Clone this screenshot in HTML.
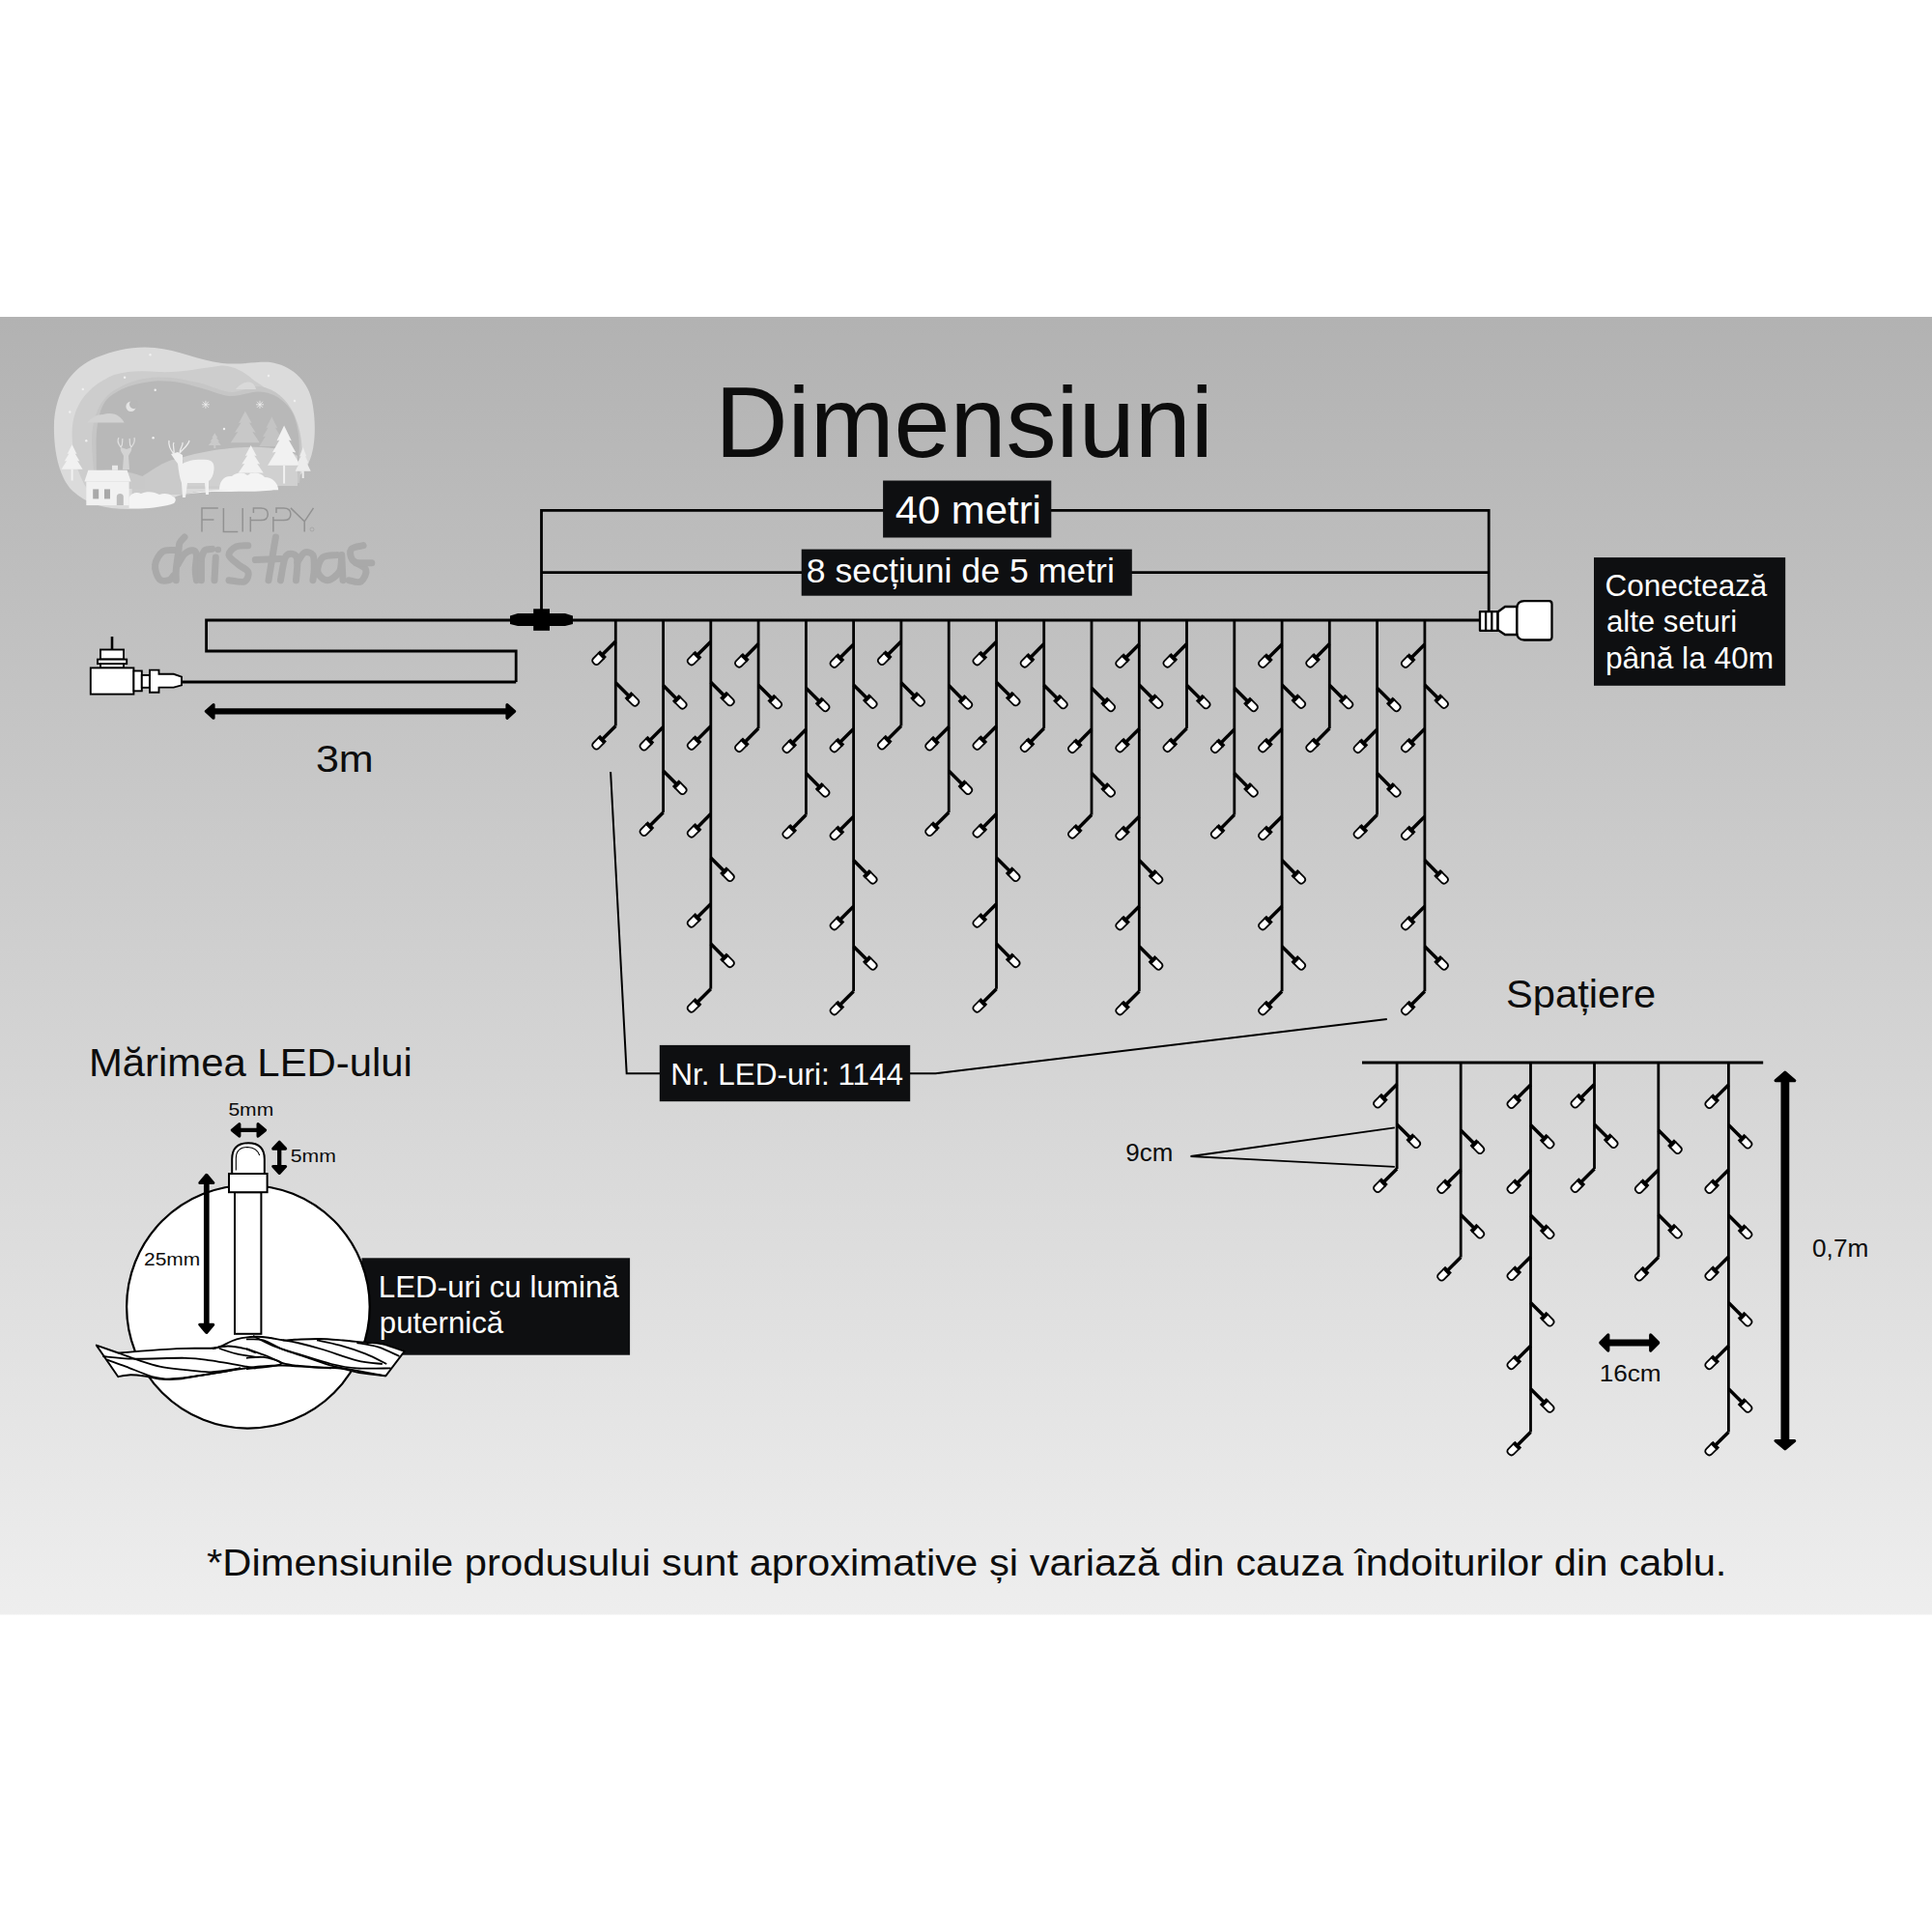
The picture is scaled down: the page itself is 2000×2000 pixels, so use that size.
<!DOCTYPE html>
<html><head><meta charset="utf-8"><title>Dimensiuni</title>
<style>
html,body{margin:0;padding:0;background:#fff;width:2000px;height:2000px;overflow:hidden}
svg{position:absolute;left:0;top:0;display:block}
text{font-family:"Liberation Sans",sans-serif}
</style></head><body>
<svg width="2000" height="2000" viewBox="0 0 2000 2000">
<defs>
<linearGradient id="bg" x1="0" y1="0" x2="0" y2="1">
<stop offset="0" stop-color="#b2b2b2"/>
<stop offset="1" stop-color="#eeeeee"/>
</linearGradient>
</defs>
<rect x="0" y="328" width="2000" height="1343.5" fill="url(#bg)"/>

<g>
<path d="M55.9,443 C56,405 75,380 100,370 C120,362 140,358 160,360 C185,362 205,373 230,376 C250,378 265,374 280,375 C300,378 318,392 323,415 C328,440 326,465 320,478 C314,492 303,500 288,503 C275,507 250,508 219,508 C200,509 190,511 180,515 C170,520 160,526 140,527 C110,528 90,522 75,508 C62,495 56,470 55.9,443 Z" fill="#dbdbdb"/>
<path d="M74.6,448 C75,420 90,400 118,388 C135,383 150,384 165,385 C185,386 210,381 229,378.5 C240,378 252,384 263.6,394.3 C280,405 298,418 306,435 C312,450 312,475 307.8,492.6 C300,502 280,505 250,506 L90,506 C80,490 74.6,470 74.6,448 Z" fill="#cdcdcd"/>
<path d="M95,455 C96,430 104,412 120,403 C135,394 150,391 163,390.5 C180,390 195,394 205,396 C220,400 232,406 240,406 C252,405 262,399 270,400 C285,403 296,412 304,428 C312,445 314,465 312,480 L310,500 L100,505 C97,490 95,470 95,455 Z" fill="#c6c6c6"/>
<path d="M99.5,458 C100,435 104,420 112,412 C122,403 140,396 162.6,394.3 C180,394 192,397 200,399.5 C215,403 228,409 237.6,410 C250,410 260,405 267.7,405.5 C278,406 285,409 290,413 C298,419 303,426 305,432.6 C309,445 310,455 309.7,466 L308,495 L100,495 Z" fill="#b8b8b8"/>
<path d="M90.3,437.5 C95,432 100,429 107,429 C112,427 120,428 123,431 C126,433 128,436 128.7,437.5 Z" fill="#d2d2d2"/>
<path d="M244,403 C248,398 253,395 258,395.5 C262,396 264.5,400 265,403 Z" fill="#d9d9d9"/>
<circle cx="135.6" cy="420.8" r="5.2" fill="#e4e4e4"/><circle cx="138.6" cy="418.6" r="4.6" fill="#b7b7b7"/>
<circle cx="155.5" cy="367.2" r="1.2" fill="#f0f0f0"/>
<circle cx="85.8" cy="402.9" r="1.2" fill="#f0f0f0"/>
<circle cx="72.3" cy="426.5" r="1.2" fill="#f0f0f0"/>
<circle cx="129.1" cy="390.8" r="1.2" fill="#f0f0f0"/>
<circle cx="160.7" cy="403.7" r="1.2" fill="#f0f0f0"/>
<circle cx="158.6" cy="453.2" r="1.2" fill="#f0f0f0"/>
<circle cx="89.3" cy="456.2" r="1.2" fill="#f0f0f0"/>
<circle cx="278" cy="389" r="1.2" fill="#f0f0f0"/>
<circle cx="305" cy="415" r="1.2" fill="#f0f0f0"/>
<circle cx="232" cy="444" r="1.2" fill="#f0f0f0"/>
<g stroke="#f0f0f0" stroke-width="0.8"><line x1="208.9" y1="418.8" x2="216.9" y2="418.8"/><line x1="212.9" y1="414.8" x2="212.9" y2="422.8"/><line x1="209.9" y1="415.8" x2="215.9" y2="421.8"/><line x1="209.9" y1="421.8" x2="215.9" y2="415.8"/></g>
<g stroke="#f0f0f0" stroke-width="0.8"><line x1="265" y1="418.8" x2="273" y2="418.8"/><line x1="269" y1="414.8" x2="269" y2="422.8"/><line x1="266" y1="415.8" x2="272" y2="421.8"/><line x1="266" y1="421.8" x2="272" y2="415.8"/></g>
<path d="M253.8,425.7 L260.6,438.1 L258.0,437.4 L264.6,447.8 L261.3,447.1 L268.8,458.2 L238.8,458.2 L246.3,447.1 L243.0,447.8 L249.6,437.4 L247.1,438.1 Z" fill="#c8c8c8"/>
<path d="M281.3,431.6 L287.2,443.2 L284.9,442.5 L290.7,452.3 L287.8,451.7 L294.3,462.0 L268.3,462.0 L274.8,451.7 L271.9,452.3 L277.7,442.5 L275.4,443.2 Z" fill="#c4c4c4"/>
<path d="M222.3,448.3 L225.2,453.1 L224.1,452.9 L227.0,456.9 L225.6,456.7 L228.8,461.0 L215.8,461.0 L219.1,456.7 L217.6,456.9 L220.5,452.9 L219.4,453.1 Z" fill="#cacaca"/><rect x="221.3" y="461.0" width="2" height="3.0" fill="#cacaca"/>
<path d="M176,478 C195,470 225,464 255,463 C280,462 300,466 308,472 L308,503 L176,503 Z" fill="#d0d0d0"/>
<path d="M136.6,499.5 C150,492 165,480 177.9,475.9 L190,476 L190,512 L136.6,512 Z" fill="#cacaca"/>
<path d="M100,488 C115,484 135,488 150,494 L150,506 L100,506 Z" fill="#c9c9c9"/>
<path d="M294.1,440.5 L301.8,456.2 L298.9,455.4 L306.3,468.6 L302.6,467.8 L311.1,481.8 L277.1,481.8 L285.6,467.8 L281.9,468.6 L289.3,455.4 L286.5,456.2 Z" fill="#f1f1f1"/><rect x="293.1" y="481.8" width="2" height="18.7" fill="#f1f1f1"/>
<path d="M259.7,461.1 L265.6,471.9 L263.3,471.4 L269.1,480.5 L266.2,479.9 L272.7,489.6 L246.7,489.6 L253.2,479.9 L250.3,480.5 L256.1,471.4 L253.8,471.9 Z" fill="#f1f1f1"/><rect x="258.7" y="489.6" width="2" height="7.4" fill="#f1f1f1"/>
<path d="M313.7,463.1 L317.3,472.4 L315.9,472.0 L319.5,479.8 L317.7,479.3 L321.7,487.7 L305.7,487.7 L309.7,479.3 L307.9,479.8 L311.5,472.0 L310.1,472.4 Z" fill="#ececec"/><rect x="312.7" y="487.7" width="2" height="7.3" fill="#ececec"/>
<path d="M74.6,460.2 L79.5,469.9 L77.7,469.4 L82.5,477.5 L80.1,477.0 L85.6,485.7 L63.6,485.7 L69.1,477.0 L66.7,477.5 L71.5,469.4 L69.6,469.9 Z" fill="#f1f1f1"/><rect x="73.6" y="485.7" width="2" height="11.8" fill="#f1f1f1"/>
<path d="M227,507.3 C227,498 232,492 240,493 C244,489 252,488 256,492 C262,488 270,489 274,494 C282,494 288,500 288.2,507.3 Z" fill="#f4f4f4"/>
<path d="M127,486 L128,472 C126,468 124,466 125,463 L131,465 L136,463 C137,466 135,468 133,472 L134,486 Z" fill="#d3d3d3"/>
<path d="M125,463 C122,459 121,456 123,453 M125,463 C128,460 126,456 127,454 M136,463 C139,459 140,456 139,453 M136,463 C133,460 135,456 134,454" stroke="#e0e0e0" stroke-width="1.2" fill="none"/>
<path d="M177,470 L184,468 L189,471 L189,480 C195,476 205,475 215,476 C220,477 222,480 221.5,486 C221,492 219,496 216,498 L216,512 L213,512 L212,500 L194,500 L192,515 L189,515 L188,500 C186,495 185,488 184,480 L181,476 Z" fill="#f1f1f1"/>
<path d="M180,470 C176,465 174,461 175,456 M180,470 C181,465 178,461 180,458 M186,469 C190,464 195,461 196,456 M186,469 C186,464 190,461 189,458" stroke="#ececec" stroke-width="1.3" fill="none"/>
<path d="M91.3,486.7 L131.6,486.7 L135.6,498.5 L87.4,498.5 Z" fill="#f1f1f1"/>
<rect x="116" y="481.8" width="6" height="5" fill="#e8e8e8"/>
<rect x="89.3" y="498.5" width="44.3" height="24.6" fill="#f1f1f1"/>
<rect x="96.2" y="506.4" width="6" height="10" fill="#a9a9a9"/><rect x="108" y="506.4" width="6" height="10" fill="#a9a9a9"/>
<path d="M120.8,523 L120.8,514 C120.8,510 127.8,510 127.8,514 L127.8,523 Z" fill="#bdbdbd"/>
<path d="M133.6,515 C136,510 142,509 146,511 C152,508 160,509 165,512 C170,510 176,511 178.8,514 C182,515 183,518 180,521 C170,525 150,527 140,526 L133.6,526 Z" fill="#f4f4f4"/>
<path d="M190,512 C210,507 240,506 283,507 C275,509 250,509 219,509 C205,510 195,511 190,512 Z" fill="#f4f4f4"/>
</g>
<g fill="none" stroke="#929292" stroke-width="1.5" stroke-linecap="butt">
<path d="M209,550.4 V525.9 H225.8 M209,538 H221.4"/>
<path d="M231.4,525.9 V550.4 H246.3"/>
<path d="M251.2,525.9 V550.4"/>
<path d="M262.4,531 V525.9 H270 Q277.3,525.9 277.3,532.2 Q277.3,538.6 270,538.6 H259.3 M259.3,535 V550.4"/>
<path d="M286,531 V525.9 H293.6 Q300.9,525.9 300.9,532.2 Q300.9,538.6 293.6,538.6 H282.9 M282.9,535 V550.4"/>
<path d="M300.9,525.9 L315.2,539.8 L324.5,525.9 M315.2,539.8 V550.4"/>
</g>
<circle cx="323" cy="548" r="2" fill="none" stroke="#9a9a9a" stroke-width="0.6"/>
<g fill="none" stroke="#a9a9a9" stroke-width="7" stroke-linecap="round" stroke-linejoin="round">
<path d="M182.9,569.7 C180.5,569.9 172.3,568.4 168.6,570.9 C164.9,573.4 161.2,579.8 160.6,584.6 C160.0,589.4 162.5,596.8 164.9,599.5 C167.3,602.2 172.3,601.3 174.8,600.7 C177.3,600.1 179.0,596.5 179.8,595.7 "/>
<path d="M191.0,556.0 C190.2,557.0 187.0,559.5 186.0,562.0 C185.0,564.5 185.4,566.3 184.8,570.9 C184.2,575.5 182.7,584.5 182.3,589.5 C181.9,594.5 182.3,598.8 182.3,600.7 "/>
<path d="M184.0,584.6 C185.2,582.7 188.4,575.9 191.0,573.4 C193.6,570.9 197.6,569.5 199.7,569.7 C201.8,569.9 203.0,571.3 203.4,574.6 C203.8,577.9 202.2,585.1 202.2,589.5 C202.2,593.9 203.2,598.8 203.4,600.7 "/>
<path d="M208.4,575.0 C208.4,579.3 208.4,596.4 208.4,600.7 "/>
<path d="M208.4,578.0 C209.0,576.6 210.1,571.3 212.0,569.7 C213.9,568.1 218.3,568.6 219.6,568.4 "/>
<path d="M223.3,577.1 C223.1,581.0 222.2,596.8 222.0,600.7 "/>
<path d="M256.8,564.7 C254.7,564.9 247.7,564.2 244.4,565.9 C241.1,567.5 236.6,571.5 237.0,574.6 C237.4,577.7 243.6,581.7 246.9,584.6 C250.2,587.5 255.8,589.1 256.8,592.0 C257.8,594.9 256.4,600.5 253.1,602.0 C249.8,603.5 239.7,600.9 237.0,600.7 "/>
<path d="M285.4,556.0 C285.0,558.5 284.1,563.4 282.9,570.9 C281.7,578.4 278.8,595.7 278.0,600.7 "/>
<path d="M264.3,579.6 C268.6,579.4 286.0,578.6 290.4,578.4 "/>
<path d="M290.4,600.7 C291.2,596.8 293.2,581.7 295.3,577.1 C297.4,572.5 300.7,573.0 302.8,573.4 C304.9,573.8 307.2,575.0 307.8,579.6 C308.4,584.2 306.7,597.2 306.5,600.7 "/>
<path d="M307.8,582.1 C309.0,580.4 312.5,573.4 315.2,572.1 C317.9,570.9 322.2,571.7 323.9,574.6 C325.6,577.5 325.2,585.1 325.2,589.5 C325.2,593.9 324.1,598.8 323.9,600.7 "/>
<path d="M348.8,574.6 C346.3,575.0 337.2,574.2 333.9,577.1 C330.6,580.0 328.1,588.1 328.9,592.0 C329.7,595.9 335.1,600.7 338.8,600.7 C342.5,600.7 348.7,595.9 351.2,592.0 C353.7,588.1 353.3,579.6 353.7,577.1 "/>
<path d="M353.7,574.6 C353.9,579.0 354.8,596.4 355.0,600.7 "/>
<path d="M376.1,564.7 C374.0,565.3 365.6,565.9 363.7,568.4 C361.8,570.9 362.4,576.1 364.9,579.6 C367.4,583.1 377.2,585.8 378.6,589.5 C380.1,593.2 376.5,600.1 373.6,602.0 C370.7,603.9 363.3,600.9 361.2,600.7 "/>
<path d="M368.6,582.7 C371.3,582.7 382.1,582.7 384.8,582.7 "/>
</g>
<circle cx="225.8" cy="569" r="3.3" fill="#a9a9a9"/>
<line x1="637.3" y1="642" x2="637.3" y2="751.5" stroke="#000" stroke-width="2.8"/>
<g transform="translate(637.3,664.0) rotate(135)"><line x1="0" y1="0" x2="19.5" y2="0" stroke="#000" stroke-width="3.5"/><rect x="18" y="-4.8" width="3.8" height="9.6" fill="#000"/><path d="M21.2,-3.9 L28.3,-3.9 Q32,-3.9 32,-0.6 L32,0.6 Q32,3.9 28.3,3.9 L21.2,3.9 Z" fill="#fff" stroke="#000" stroke-width="1.8"/></g>
<g transform="translate(637.3,706.7) rotate(45)"><line x1="0" y1="0" x2="19.5" y2="0" stroke="#000" stroke-width="3.5"/><rect x="18" y="-4.8" width="3.8" height="9.6" fill="#000"/><path d="M21.2,-3.9 L28.3,-3.9 Q32,-3.9 32,-0.6 L32,0.6 Q32,3.9 28.3,3.9 L21.2,3.9 Z" fill="#fff" stroke="#000" stroke-width="1.8"/></g>
<g transform="translate(637.3,751.5) rotate(135)"><line x1="0" y1="0" x2="19.5" y2="0" stroke="#000" stroke-width="3.5"/><rect x="18" y="-4.8" width="3.8" height="9.6" fill="#000"/><path d="M21.2,-3.9 L28.3,-3.9 Q32,-3.9 32,-0.6 L32,0.6 Q32,3.9 28.3,3.9 L21.2,3.9 Z" fill="#fff" stroke="#000" stroke-width="1.8"/></g>
<line x1="686.6" y1="642" x2="686.6" y2="841.0" stroke="#000" stroke-width="2.8"/>
<g transform="translate(686.6,709.6) rotate(45)"><line x1="0" y1="0" x2="19.5" y2="0" stroke="#000" stroke-width="3.5"/><rect x="18" y="-4.8" width="3.8" height="9.6" fill="#000"/><path d="M21.2,-3.9 L28.3,-3.9 Q32,-3.9 32,-0.6 L32,0.6 Q32,3.9 28.3,3.9 L21.2,3.9 Z" fill="#fff" stroke="#000" stroke-width="1.8"/></g>
<g transform="translate(686.6,752.5) rotate(135)"><line x1="0" y1="0" x2="19.5" y2="0" stroke="#000" stroke-width="3.5"/><rect x="18" y="-4.8" width="3.8" height="9.6" fill="#000"/><path d="M21.2,-3.9 L28.3,-3.9 Q32,-3.9 32,-0.6 L32,0.6 Q32,3.9 28.3,3.9 L21.2,3.9 Z" fill="#fff" stroke="#000" stroke-width="1.8"/></g>
<g transform="translate(686.6,798.0) rotate(45)"><line x1="0" y1="0" x2="19.5" y2="0" stroke="#000" stroke-width="3.5"/><rect x="18" y="-4.8" width="3.8" height="9.6" fill="#000"/><path d="M21.2,-3.9 L28.3,-3.9 Q32,-3.9 32,-0.6 L32,0.6 Q32,3.9 28.3,3.9 L21.2,3.9 Z" fill="#fff" stroke="#000" stroke-width="1.8"/></g>
<g transform="translate(686.6,841.0) rotate(135)"><line x1="0" y1="0" x2="19.5" y2="0" stroke="#000" stroke-width="3.5"/><rect x="18" y="-4.8" width="3.8" height="9.6" fill="#000"/><path d="M21.2,-3.9 L28.3,-3.9 Q32,-3.9 32,-0.6 L32,0.6 Q32,3.9 28.3,3.9 L21.2,3.9 Z" fill="#fff" stroke="#000" stroke-width="1.8"/></g>
<line x1="735.8" y1="642" x2="735.8" y2="1023.7" stroke="#000" stroke-width="2.8"/>
<g transform="translate(735.8,664.3) rotate(135)"><line x1="0" y1="0" x2="19.5" y2="0" stroke="#000" stroke-width="3.5"/><rect x="18" y="-4.8" width="3.8" height="9.6" fill="#000"/><path d="M21.2,-3.9 L28.3,-3.9 Q32,-3.9 32,-0.6 L32,0.6 Q32,3.9 28.3,3.9 L21.2,3.9 Z" fill="#fff" stroke="#000" stroke-width="1.8"/></g>
<g transform="translate(735.8,706.3) rotate(45)"><line x1="0" y1="0" x2="19.5" y2="0" stroke="#000" stroke-width="3.5"/><rect x="18" y="-4.8" width="3.8" height="9.6" fill="#000"/><path d="M21.2,-3.9 L28.3,-3.9 Q32,-3.9 32,-0.6 L32,0.6 Q32,3.9 28.3,3.9 L21.2,3.9 Z" fill="#fff" stroke="#000" stroke-width="1.8"/></g>
<g transform="translate(735.8,751.8) rotate(135)"><line x1="0" y1="0" x2="19.5" y2="0" stroke="#000" stroke-width="3.5"/><rect x="18" y="-4.8" width="3.8" height="9.6" fill="#000"/><path d="M21.2,-3.9 L28.3,-3.9 Q32,-3.9 32,-0.6 L32,0.6 Q32,3.9 28.3,3.9 L21.2,3.9 Z" fill="#fff" stroke="#000" stroke-width="1.8"/></g>
<g transform="translate(735.8,842.6) rotate(135)"><line x1="0" y1="0" x2="19.5" y2="0" stroke="#000" stroke-width="3.5"/><rect x="18" y="-4.8" width="3.8" height="9.6" fill="#000"/><path d="M21.2,-3.9 L28.3,-3.9 Q32,-3.9 32,-0.6 L32,0.6 Q32,3.9 28.3,3.9 L21.2,3.9 Z" fill="#fff" stroke="#000" stroke-width="1.8"/></g>
<g transform="translate(735.8,888.0) rotate(45)"><line x1="0" y1="0" x2="19.5" y2="0" stroke="#000" stroke-width="3.5"/><rect x="18" y="-4.8" width="3.8" height="9.6" fill="#000"/><path d="M21.2,-3.9 L28.3,-3.9 Q32,-3.9 32,-0.6 L32,0.6 Q32,3.9 28.3,3.9 L21.2,3.9 Z" fill="#fff" stroke="#000" stroke-width="1.8"/></g>
<g transform="translate(735.8,935.7) rotate(135)"><line x1="0" y1="0" x2="19.5" y2="0" stroke="#000" stroke-width="3.5"/><rect x="18" y="-4.8" width="3.8" height="9.6" fill="#000"/><path d="M21.2,-3.9 L28.3,-3.9 Q32,-3.9 32,-0.6 L32,0.6 Q32,3.9 28.3,3.9 L21.2,3.9 Z" fill="#fff" stroke="#000" stroke-width="1.8"/></g>
<g transform="translate(735.8,977.1) rotate(45)"><line x1="0" y1="0" x2="19.5" y2="0" stroke="#000" stroke-width="3.5"/><rect x="18" y="-4.8" width="3.8" height="9.6" fill="#000"/><path d="M21.2,-3.9 L28.3,-3.9 Q32,-3.9 32,-0.6 L32,0.6 Q32,3.9 28.3,3.9 L21.2,3.9 Z" fill="#fff" stroke="#000" stroke-width="1.8"/></g>
<g transform="translate(735.8,1023.7) rotate(135)"><line x1="0" y1="0" x2="19.5" y2="0" stroke="#000" stroke-width="3.5"/><rect x="18" y="-4.8" width="3.8" height="9.6" fill="#000"/><path d="M21.2,-3.9 L28.3,-3.9 Q32,-3.9 32,-0.6 L32,0.6 Q32,3.9 28.3,3.9 L21.2,3.9 Z" fill="#fff" stroke="#000" stroke-width="1.8"/></g>
<line x1="785.1" y1="642" x2="785.1" y2="754.1" stroke="#000" stroke-width="2.8"/>
<g transform="translate(785.1,666.6) rotate(135)"><line x1="0" y1="0" x2="19.5" y2="0" stroke="#000" stroke-width="3.5"/><rect x="18" y="-4.8" width="3.8" height="9.6" fill="#000"/><path d="M21.2,-3.9 L28.3,-3.9 Q32,-3.9 32,-0.6 L32,0.6 Q32,3.9 28.3,3.9 L21.2,3.9 Z" fill="#fff" stroke="#000" stroke-width="1.8"/></g>
<g transform="translate(785.1,709.3) rotate(45)"><line x1="0" y1="0" x2="19.5" y2="0" stroke="#000" stroke-width="3.5"/><rect x="18" y="-4.8" width="3.8" height="9.6" fill="#000"/><path d="M21.2,-3.9 L28.3,-3.9 Q32,-3.9 32,-0.6 L32,0.6 Q32,3.9 28.3,3.9 L21.2,3.9 Z" fill="#fff" stroke="#000" stroke-width="1.8"/></g>
<g transform="translate(785.1,754.1) rotate(135)"><line x1="0" y1="0" x2="19.5" y2="0" stroke="#000" stroke-width="3.5"/><rect x="18" y="-4.8" width="3.8" height="9.6" fill="#000"/><path d="M21.2,-3.9 L28.3,-3.9 Q32,-3.9 32,-0.6 L32,0.6 Q32,3.9 28.3,3.9 L21.2,3.9 Z" fill="#fff" stroke="#000" stroke-width="1.8"/></g>
<line x1="834.4" y1="642" x2="834.4" y2="843.6" stroke="#000" stroke-width="2.8"/>
<g transform="translate(834.4,712.2) rotate(45)"><line x1="0" y1="0" x2="19.5" y2="0" stroke="#000" stroke-width="3.5"/><rect x="18" y="-4.8" width="3.8" height="9.6" fill="#000"/><path d="M21.2,-3.9 L28.3,-3.9 Q32,-3.9 32,-0.6 L32,0.6 Q32,3.9 28.3,3.9 L21.2,3.9 Z" fill="#fff" stroke="#000" stroke-width="1.8"/></g>
<g transform="translate(834.4,755.1) rotate(135)"><line x1="0" y1="0" x2="19.5" y2="0" stroke="#000" stroke-width="3.5"/><rect x="18" y="-4.8" width="3.8" height="9.6" fill="#000"/><path d="M21.2,-3.9 L28.3,-3.9 Q32,-3.9 32,-0.6 L32,0.6 Q32,3.9 28.3,3.9 L21.2,3.9 Z" fill="#fff" stroke="#000" stroke-width="1.8"/></g>
<g transform="translate(834.4,800.6) rotate(45)"><line x1="0" y1="0" x2="19.5" y2="0" stroke="#000" stroke-width="3.5"/><rect x="18" y="-4.8" width="3.8" height="9.6" fill="#000"/><path d="M21.2,-3.9 L28.3,-3.9 Q32,-3.9 32,-0.6 L32,0.6 Q32,3.9 28.3,3.9 L21.2,3.9 Z" fill="#fff" stroke="#000" stroke-width="1.8"/></g>
<g transform="translate(834.4,843.6) rotate(135)"><line x1="0" y1="0" x2="19.5" y2="0" stroke="#000" stroke-width="3.5"/><rect x="18" y="-4.8" width="3.8" height="9.6" fill="#000"/><path d="M21.2,-3.9 L28.3,-3.9 Q32,-3.9 32,-0.6 L32,0.6 Q32,3.9 28.3,3.9 L21.2,3.9 Z" fill="#fff" stroke="#000" stroke-width="1.8"/></g>
<line x1="883.6" y1="642" x2="883.6" y2="1026.3" stroke="#000" stroke-width="2.8"/>
<g transform="translate(883.6,666.9) rotate(135)"><line x1="0" y1="0" x2="19.5" y2="0" stroke="#000" stroke-width="3.5"/><rect x="18" y="-4.8" width="3.8" height="9.6" fill="#000"/><path d="M21.2,-3.9 L28.3,-3.9 Q32,-3.9 32,-0.6 L32,0.6 Q32,3.9 28.3,3.9 L21.2,3.9 Z" fill="#fff" stroke="#000" stroke-width="1.8"/></g>
<g transform="translate(883.6,708.9) rotate(45)"><line x1="0" y1="0" x2="19.5" y2="0" stroke="#000" stroke-width="3.5"/><rect x="18" y="-4.8" width="3.8" height="9.6" fill="#000"/><path d="M21.2,-3.9 L28.3,-3.9 Q32,-3.9 32,-0.6 L32,0.6 Q32,3.9 28.3,3.9 L21.2,3.9 Z" fill="#fff" stroke="#000" stroke-width="1.8"/></g>
<g transform="translate(883.6,754.4) rotate(135)"><line x1="0" y1="0" x2="19.5" y2="0" stroke="#000" stroke-width="3.5"/><rect x="18" y="-4.8" width="3.8" height="9.6" fill="#000"/><path d="M21.2,-3.9 L28.3,-3.9 Q32,-3.9 32,-0.6 L32,0.6 Q32,3.9 28.3,3.9 L21.2,3.9 Z" fill="#fff" stroke="#000" stroke-width="1.8"/></g>
<g transform="translate(883.6,845.2) rotate(135)"><line x1="0" y1="0" x2="19.5" y2="0" stroke="#000" stroke-width="3.5"/><rect x="18" y="-4.8" width="3.8" height="9.6" fill="#000"/><path d="M21.2,-3.9 L28.3,-3.9 Q32,-3.9 32,-0.6 L32,0.6 Q32,3.9 28.3,3.9 L21.2,3.9 Z" fill="#fff" stroke="#000" stroke-width="1.8"/></g>
<g transform="translate(883.6,890.6) rotate(45)"><line x1="0" y1="0" x2="19.5" y2="0" stroke="#000" stroke-width="3.5"/><rect x="18" y="-4.8" width="3.8" height="9.6" fill="#000"/><path d="M21.2,-3.9 L28.3,-3.9 Q32,-3.9 32,-0.6 L32,0.6 Q32,3.9 28.3,3.9 L21.2,3.9 Z" fill="#fff" stroke="#000" stroke-width="1.8"/></g>
<g transform="translate(883.6,938.3) rotate(135)"><line x1="0" y1="0" x2="19.5" y2="0" stroke="#000" stroke-width="3.5"/><rect x="18" y="-4.8" width="3.8" height="9.6" fill="#000"/><path d="M21.2,-3.9 L28.3,-3.9 Q32,-3.9 32,-0.6 L32,0.6 Q32,3.9 28.3,3.9 L21.2,3.9 Z" fill="#fff" stroke="#000" stroke-width="1.8"/></g>
<g transform="translate(883.6,979.7) rotate(45)"><line x1="0" y1="0" x2="19.5" y2="0" stroke="#000" stroke-width="3.5"/><rect x="18" y="-4.8" width="3.8" height="9.6" fill="#000"/><path d="M21.2,-3.9 L28.3,-3.9 Q32,-3.9 32,-0.6 L32,0.6 Q32,3.9 28.3,3.9 L21.2,3.9 Z" fill="#fff" stroke="#000" stroke-width="1.8"/></g>
<g transform="translate(883.6,1026.3) rotate(135)"><line x1="0" y1="0" x2="19.5" y2="0" stroke="#000" stroke-width="3.5"/><rect x="18" y="-4.8" width="3.8" height="9.6" fill="#000"/><path d="M21.2,-3.9 L28.3,-3.9 Q32,-3.9 32,-0.6 L32,0.6 Q32,3.9 28.3,3.9 L21.2,3.9 Z" fill="#fff" stroke="#000" stroke-width="1.8"/></g>
<line x1="932.9" y1="642" x2="932.9" y2="751.5" stroke="#000" stroke-width="2.8"/>
<g transform="translate(932.9,664.0) rotate(135)"><line x1="0" y1="0" x2="19.5" y2="0" stroke="#000" stroke-width="3.5"/><rect x="18" y="-4.8" width="3.8" height="9.6" fill="#000"/><path d="M21.2,-3.9 L28.3,-3.9 Q32,-3.9 32,-0.6 L32,0.6 Q32,3.9 28.3,3.9 L21.2,3.9 Z" fill="#fff" stroke="#000" stroke-width="1.8"/></g>
<g transform="translate(932.9,706.7) rotate(45)"><line x1="0" y1="0" x2="19.5" y2="0" stroke="#000" stroke-width="3.5"/><rect x="18" y="-4.8" width="3.8" height="9.6" fill="#000"/><path d="M21.2,-3.9 L28.3,-3.9 Q32,-3.9 32,-0.6 L32,0.6 Q32,3.9 28.3,3.9 L21.2,3.9 Z" fill="#fff" stroke="#000" stroke-width="1.8"/></g>
<g transform="translate(932.9,751.5) rotate(135)"><line x1="0" y1="0" x2="19.5" y2="0" stroke="#000" stroke-width="3.5"/><rect x="18" y="-4.8" width="3.8" height="9.6" fill="#000"/><path d="M21.2,-3.9 L28.3,-3.9 Q32,-3.9 32,-0.6 L32,0.6 Q32,3.9 28.3,3.9 L21.2,3.9 Z" fill="#fff" stroke="#000" stroke-width="1.8"/></g>
<line x1="982.2" y1="642" x2="982.2" y2="841.0" stroke="#000" stroke-width="2.8"/>
<g transform="translate(982.2,709.6) rotate(45)"><line x1="0" y1="0" x2="19.5" y2="0" stroke="#000" stroke-width="3.5"/><rect x="18" y="-4.8" width="3.8" height="9.6" fill="#000"/><path d="M21.2,-3.9 L28.3,-3.9 Q32,-3.9 32,-0.6 L32,0.6 Q32,3.9 28.3,3.9 L21.2,3.9 Z" fill="#fff" stroke="#000" stroke-width="1.8"/></g>
<g transform="translate(982.2,752.5) rotate(135)"><line x1="0" y1="0" x2="19.5" y2="0" stroke="#000" stroke-width="3.5"/><rect x="18" y="-4.8" width="3.8" height="9.6" fill="#000"/><path d="M21.2,-3.9 L28.3,-3.9 Q32,-3.9 32,-0.6 L32,0.6 Q32,3.9 28.3,3.9 L21.2,3.9 Z" fill="#fff" stroke="#000" stroke-width="1.8"/></g>
<g transform="translate(982.2,798.0) rotate(45)"><line x1="0" y1="0" x2="19.5" y2="0" stroke="#000" stroke-width="3.5"/><rect x="18" y="-4.8" width="3.8" height="9.6" fill="#000"/><path d="M21.2,-3.9 L28.3,-3.9 Q32,-3.9 32,-0.6 L32,0.6 Q32,3.9 28.3,3.9 L21.2,3.9 Z" fill="#fff" stroke="#000" stroke-width="1.8"/></g>
<g transform="translate(982.2,841.0) rotate(135)"><line x1="0" y1="0" x2="19.5" y2="0" stroke="#000" stroke-width="3.5"/><rect x="18" y="-4.8" width="3.8" height="9.6" fill="#000"/><path d="M21.2,-3.9 L28.3,-3.9 Q32,-3.9 32,-0.6 L32,0.6 Q32,3.9 28.3,3.9 L21.2,3.9 Z" fill="#fff" stroke="#000" stroke-width="1.8"/></g>
<line x1="1031.5" y1="642" x2="1031.5" y2="1023.7" stroke="#000" stroke-width="2.8"/>
<g transform="translate(1031.5,664.3) rotate(135)"><line x1="0" y1="0" x2="19.5" y2="0" stroke="#000" stroke-width="3.5"/><rect x="18" y="-4.8" width="3.8" height="9.6" fill="#000"/><path d="M21.2,-3.9 L28.3,-3.9 Q32,-3.9 32,-0.6 L32,0.6 Q32,3.9 28.3,3.9 L21.2,3.9 Z" fill="#fff" stroke="#000" stroke-width="1.8"/></g>
<g transform="translate(1031.5,706.3) rotate(45)"><line x1="0" y1="0" x2="19.5" y2="0" stroke="#000" stroke-width="3.5"/><rect x="18" y="-4.8" width="3.8" height="9.6" fill="#000"/><path d="M21.2,-3.9 L28.3,-3.9 Q32,-3.9 32,-0.6 L32,0.6 Q32,3.9 28.3,3.9 L21.2,3.9 Z" fill="#fff" stroke="#000" stroke-width="1.8"/></g>
<g transform="translate(1031.5,751.8) rotate(135)"><line x1="0" y1="0" x2="19.5" y2="0" stroke="#000" stroke-width="3.5"/><rect x="18" y="-4.8" width="3.8" height="9.6" fill="#000"/><path d="M21.2,-3.9 L28.3,-3.9 Q32,-3.9 32,-0.6 L32,0.6 Q32,3.9 28.3,3.9 L21.2,3.9 Z" fill="#fff" stroke="#000" stroke-width="1.8"/></g>
<g transform="translate(1031.5,842.6) rotate(135)"><line x1="0" y1="0" x2="19.5" y2="0" stroke="#000" stroke-width="3.5"/><rect x="18" y="-4.8" width="3.8" height="9.6" fill="#000"/><path d="M21.2,-3.9 L28.3,-3.9 Q32,-3.9 32,-0.6 L32,0.6 Q32,3.9 28.3,3.9 L21.2,3.9 Z" fill="#fff" stroke="#000" stroke-width="1.8"/></g>
<g transform="translate(1031.5,888.0) rotate(45)"><line x1="0" y1="0" x2="19.5" y2="0" stroke="#000" stroke-width="3.5"/><rect x="18" y="-4.8" width="3.8" height="9.6" fill="#000"/><path d="M21.2,-3.9 L28.3,-3.9 Q32,-3.9 32,-0.6 L32,0.6 Q32,3.9 28.3,3.9 L21.2,3.9 Z" fill="#fff" stroke="#000" stroke-width="1.8"/></g>
<g transform="translate(1031.5,935.7) rotate(135)"><line x1="0" y1="0" x2="19.5" y2="0" stroke="#000" stroke-width="3.5"/><rect x="18" y="-4.8" width="3.8" height="9.6" fill="#000"/><path d="M21.2,-3.9 L28.3,-3.9 Q32,-3.9 32,-0.6 L32,0.6 Q32,3.9 28.3,3.9 L21.2,3.9 Z" fill="#fff" stroke="#000" stroke-width="1.8"/></g>
<g transform="translate(1031.5,977.1) rotate(45)"><line x1="0" y1="0" x2="19.5" y2="0" stroke="#000" stroke-width="3.5"/><rect x="18" y="-4.8" width="3.8" height="9.6" fill="#000"/><path d="M21.2,-3.9 L28.3,-3.9 Q32,-3.9 32,-0.6 L32,0.6 Q32,3.9 28.3,3.9 L21.2,3.9 Z" fill="#fff" stroke="#000" stroke-width="1.8"/></g>
<g transform="translate(1031.5,1023.7) rotate(135)"><line x1="0" y1="0" x2="19.5" y2="0" stroke="#000" stroke-width="3.5"/><rect x="18" y="-4.8" width="3.8" height="9.6" fill="#000"/><path d="M21.2,-3.9 L28.3,-3.9 Q32,-3.9 32,-0.6 L32,0.6 Q32,3.9 28.3,3.9 L21.2,3.9 Z" fill="#fff" stroke="#000" stroke-width="1.8"/></g>
<line x1="1080.7" y1="642" x2="1080.7" y2="754.1" stroke="#000" stroke-width="2.8"/>
<g transform="translate(1080.7,666.6) rotate(135)"><line x1="0" y1="0" x2="19.5" y2="0" stroke="#000" stroke-width="3.5"/><rect x="18" y="-4.8" width="3.8" height="9.6" fill="#000"/><path d="M21.2,-3.9 L28.3,-3.9 Q32,-3.9 32,-0.6 L32,0.6 Q32,3.9 28.3,3.9 L21.2,3.9 Z" fill="#fff" stroke="#000" stroke-width="1.8"/></g>
<g transform="translate(1080.7,709.3) rotate(45)"><line x1="0" y1="0" x2="19.5" y2="0" stroke="#000" stroke-width="3.5"/><rect x="18" y="-4.8" width="3.8" height="9.6" fill="#000"/><path d="M21.2,-3.9 L28.3,-3.9 Q32,-3.9 32,-0.6 L32,0.6 Q32,3.9 28.3,3.9 L21.2,3.9 Z" fill="#fff" stroke="#000" stroke-width="1.8"/></g>
<g transform="translate(1080.7,754.1) rotate(135)"><line x1="0" y1="0" x2="19.5" y2="0" stroke="#000" stroke-width="3.5"/><rect x="18" y="-4.8" width="3.8" height="9.6" fill="#000"/><path d="M21.2,-3.9 L28.3,-3.9 Q32,-3.9 32,-0.6 L32,0.6 Q32,3.9 28.3,3.9 L21.2,3.9 Z" fill="#fff" stroke="#000" stroke-width="1.8"/></g>
<line x1="1130.0" y1="642" x2="1130.0" y2="843.6" stroke="#000" stroke-width="2.8"/>
<g transform="translate(1130.0,712.2) rotate(45)"><line x1="0" y1="0" x2="19.5" y2="0" stroke="#000" stroke-width="3.5"/><rect x="18" y="-4.8" width="3.8" height="9.6" fill="#000"/><path d="M21.2,-3.9 L28.3,-3.9 Q32,-3.9 32,-0.6 L32,0.6 Q32,3.9 28.3,3.9 L21.2,3.9 Z" fill="#fff" stroke="#000" stroke-width="1.8"/></g>
<g transform="translate(1130.0,755.1) rotate(135)"><line x1="0" y1="0" x2="19.5" y2="0" stroke="#000" stroke-width="3.5"/><rect x="18" y="-4.8" width="3.8" height="9.6" fill="#000"/><path d="M21.2,-3.9 L28.3,-3.9 Q32,-3.9 32,-0.6 L32,0.6 Q32,3.9 28.3,3.9 L21.2,3.9 Z" fill="#fff" stroke="#000" stroke-width="1.8"/></g>
<g transform="translate(1130.0,800.6) rotate(45)"><line x1="0" y1="0" x2="19.5" y2="0" stroke="#000" stroke-width="3.5"/><rect x="18" y="-4.8" width="3.8" height="9.6" fill="#000"/><path d="M21.2,-3.9 L28.3,-3.9 Q32,-3.9 32,-0.6 L32,0.6 Q32,3.9 28.3,3.9 L21.2,3.9 Z" fill="#fff" stroke="#000" stroke-width="1.8"/></g>
<g transform="translate(1130.0,843.6) rotate(135)"><line x1="0" y1="0" x2="19.5" y2="0" stroke="#000" stroke-width="3.5"/><rect x="18" y="-4.8" width="3.8" height="9.6" fill="#000"/><path d="M21.2,-3.9 L28.3,-3.9 Q32,-3.9 32,-0.6 L32,0.6 Q32,3.9 28.3,3.9 L21.2,3.9 Z" fill="#fff" stroke="#000" stroke-width="1.8"/></g>
<line x1="1179.3" y1="642" x2="1179.3" y2="1026.3" stroke="#000" stroke-width="2.8"/>
<g transform="translate(1179.3,666.9) rotate(135)"><line x1="0" y1="0" x2="19.5" y2="0" stroke="#000" stroke-width="3.5"/><rect x="18" y="-4.8" width="3.8" height="9.6" fill="#000"/><path d="M21.2,-3.9 L28.3,-3.9 Q32,-3.9 32,-0.6 L32,0.6 Q32,3.9 28.3,3.9 L21.2,3.9 Z" fill="#fff" stroke="#000" stroke-width="1.8"/></g>
<g transform="translate(1179.3,708.9) rotate(45)"><line x1="0" y1="0" x2="19.5" y2="0" stroke="#000" stroke-width="3.5"/><rect x="18" y="-4.8" width="3.8" height="9.6" fill="#000"/><path d="M21.2,-3.9 L28.3,-3.9 Q32,-3.9 32,-0.6 L32,0.6 Q32,3.9 28.3,3.9 L21.2,3.9 Z" fill="#fff" stroke="#000" stroke-width="1.8"/></g>
<g transform="translate(1179.3,754.4) rotate(135)"><line x1="0" y1="0" x2="19.5" y2="0" stroke="#000" stroke-width="3.5"/><rect x="18" y="-4.8" width="3.8" height="9.6" fill="#000"/><path d="M21.2,-3.9 L28.3,-3.9 Q32,-3.9 32,-0.6 L32,0.6 Q32,3.9 28.3,3.9 L21.2,3.9 Z" fill="#fff" stroke="#000" stroke-width="1.8"/></g>
<g transform="translate(1179.3,845.2) rotate(135)"><line x1="0" y1="0" x2="19.5" y2="0" stroke="#000" stroke-width="3.5"/><rect x="18" y="-4.8" width="3.8" height="9.6" fill="#000"/><path d="M21.2,-3.9 L28.3,-3.9 Q32,-3.9 32,-0.6 L32,0.6 Q32,3.9 28.3,3.9 L21.2,3.9 Z" fill="#fff" stroke="#000" stroke-width="1.8"/></g>
<g transform="translate(1179.3,890.6) rotate(45)"><line x1="0" y1="0" x2="19.5" y2="0" stroke="#000" stroke-width="3.5"/><rect x="18" y="-4.8" width="3.8" height="9.6" fill="#000"/><path d="M21.2,-3.9 L28.3,-3.9 Q32,-3.9 32,-0.6 L32,0.6 Q32,3.9 28.3,3.9 L21.2,3.9 Z" fill="#fff" stroke="#000" stroke-width="1.8"/></g>
<g transform="translate(1179.3,938.3) rotate(135)"><line x1="0" y1="0" x2="19.5" y2="0" stroke="#000" stroke-width="3.5"/><rect x="18" y="-4.8" width="3.8" height="9.6" fill="#000"/><path d="M21.2,-3.9 L28.3,-3.9 Q32,-3.9 32,-0.6 L32,0.6 Q32,3.9 28.3,3.9 L21.2,3.9 Z" fill="#fff" stroke="#000" stroke-width="1.8"/></g>
<g transform="translate(1179.3,979.7) rotate(45)"><line x1="0" y1="0" x2="19.5" y2="0" stroke="#000" stroke-width="3.5"/><rect x="18" y="-4.8" width="3.8" height="9.6" fill="#000"/><path d="M21.2,-3.9 L28.3,-3.9 Q32,-3.9 32,-0.6 L32,0.6 Q32,3.9 28.3,3.9 L21.2,3.9 Z" fill="#fff" stroke="#000" stroke-width="1.8"/></g>
<g transform="translate(1179.3,1026.3) rotate(135)"><line x1="0" y1="0" x2="19.5" y2="0" stroke="#000" stroke-width="3.5"/><rect x="18" y="-4.8" width="3.8" height="9.6" fill="#000"/><path d="M21.2,-3.9 L28.3,-3.9 Q32,-3.9 32,-0.6 L32,0.6 Q32,3.9 28.3,3.9 L21.2,3.9 Z" fill="#fff" stroke="#000" stroke-width="1.8"/></g>
<line x1="1228.5" y1="642" x2="1228.5" y2="754.1" stroke="#000" stroke-width="2.8"/>
<g transform="translate(1228.5,666.6) rotate(135)"><line x1="0" y1="0" x2="19.5" y2="0" stroke="#000" stroke-width="3.5"/><rect x="18" y="-4.8" width="3.8" height="9.6" fill="#000"/><path d="M21.2,-3.9 L28.3,-3.9 Q32,-3.9 32,-0.6 L32,0.6 Q32,3.9 28.3,3.9 L21.2,3.9 Z" fill="#fff" stroke="#000" stroke-width="1.8"/></g>
<g transform="translate(1228.5,709.3) rotate(45)"><line x1="0" y1="0" x2="19.5" y2="0" stroke="#000" stroke-width="3.5"/><rect x="18" y="-4.8" width="3.8" height="9.6" fill="#000"/><path d="M21.2,-3.9 L28.3,-3.9 Q32,-3.9 32,-0.6 L32,0.6 Q32,3.9 28.3,3.9 L21.2,3.9 Z" fill="#fff" stroke="#000" stroke-width="1.8"/></g>
<g transform="translate(1228.5,754.1) rotate(135)"><line x1="0" y1="0" x2="19.5" y2="0" stroke="#000" stroke-width="3.5"/><rect x="18" y="-4.8" width="3.8" height="9.6" fill="#000"/><path d="M21.2,-3.9 L28.3,-3.9 Q32,-3.9 32,-0.6 L32,0.6 Q32,3.9 28.3,3.9 L21.2,3.9 Z" fill="#fff" stroke="#000" stroke-width="1.8"/></g>
<line x1="1277.8" y1="642" x2="1277.8" y2="843.6" stroke="#000" stroke-width="2.8"/>
<g transform="translate(1277.8,712.2) rotate(45)"><line x1="0" y1="0" x2="19.5" y2="0" stroke="#000" stroke-width="3.5"/><rect x="18" y="-4.8" width="3.8" height="9.6" fill="#000"/><path d="M21.2,-3.9 L28.3,-3.9 Q32,-3.9 32,-0.6 L32,0.6 Q32,3.9 28.3,3.9 L21.2,3.9 Z" fill="#fff" stroke="#000" stroke-width="1.8"/></g>
<g transform="translate(1277.8,755.1) rotate(135)"><line x1="0" y1="0" x2="19.5" y2="0" stroke="#000" stroke-width="3.5"/><rect x="18" y="-4.8" width="3.8" height="9.6" fill="#000"/><path d="M21.2,-3.9 L28.3,-3.9 Q32,-3.9 32,-0.6 L32,0.6 Q32,3.9 28.3,3.9 L21.2,3.9 Z" fill="#fff" stroke="#000" stroke-width="1.8"/></g>
<g transform="translate(1277.8,800.6) rotate(45)"><line x1="0" y1="0" x2="19.5" y2="0" stroke="#000" stroke-width="3.5"/><rect x="18" y="-4.8" width="3.8" height="9.6" fill="#000"/><path d="M21.2,-3.9 L28.3,-3.9 Q32,-3.9 32,-0.6 L32,0.6 Q32,3.9 28.3,3.9 L21.2,3.9 Z" fill="#fff" stroke="#000" stroke-width="1.8"/></g>
<g transform="translate(1277.8,843.6) rotate(135)"><line x1="0" y1="0" x2="19.5" y2="0" stroke="#000" stroke-width="3.5"/><rect x="18" y="-4.8" width="3.8" height="9.6" fill="#000"/><path d="M21.2,-3.9 L28.3,-3.9 Q32,-3.9 32,-0.6 L32,0.6 Q32,3.9 28.3,3.9 L21.2,3.9 Z" fill="#fff" stroke="#000" stroke-width="1.8"/></g>
<line x1="1327.1" y1="642" x2="1327.1" y2="1026.3" stroke="#000" stroke-width="2.8"/>
<g transform="translate(1327.1,666.9) rotate(135)"><line x1="0" y1="0" x2="19.5" y2="0" stroke="#000" stroke-width="3.5"/><rect x="18" y="-4.8" width="3.8" height="9.6" fill="#000"/><path d="M21.2,-3.9 L28.3,-3.9 Q32,-3.9 32,-0.6 L32,0.6 Q32,3.9 28.3,3.9 L21.2,3.9 Z" fill="#fff" stroke="#000" stroke-width="1.8"/></g>
<g transform="translate(1327.1,708.9) rotate(45)"><line x1="0" y1="0" x2="19.5" y2="0" stroke="#000" stroke-width="3.5"/><rect x="18" y="-4.8" width="3.8" height="9.6" fill="#000"/><path d="M21.2,-3.9 L28.3,-3.9 Q32,-3.9 32,-0.6 L32,0.6 Q32,3.9 28.3,3.9 L21.2,3.9 Z" fill="#fff" stroke="#000" stroke-width="1.8"/></g>
<g transform="translate(1327.1,754.4) rotate(135)"><line x1="0" y1="0" x2="19.5" y2="0" stroke="#000" stroke-width="3.5"/><rect x="18" y="-4.8" width="3.8" height="9.6" fill="#000"/><path d="M21.2,-3.9 L28.3,-3.9 Q32,-3.9 32,-0.6 L32,0.6 Q32,3.9 28.3,3.9 L21.2,3.9 Z" fill="#fff" stroke="#000" stroke-width="1.8"/></g>
<g transform="translate(1327.1,845.2) rotate(135)"><line x1="0" y1="0" x2="19.5" y2="0" stroke="#000" stroke-width="3.5"/><rect x="18" y="-4.8" width="3.8" height="9.6" fill="#000"/><path d="M21.2,-3.9 L28.3,-3.9 Q32,-3.9 32,-0.6 L32,0.6 Q32,3.9 28.3,3.9 L21.2,3.9 Z" fill="#fff" stroke="#000" stroke-width="1.8"/></g>
<g transform="translate(1327.1,890.6) rotate(45)"><line x1="0" y1="0" x2="19.5" y2="0" stroke="#000" stroke-width="3.5"/><rect x="18" y="-4.8" width="3.8" height="9.6" fill="#000"/><path d="M21.2,-3.9 L28.3,-3.9 Q32,-3.9 32,-0.6 L32,0.6 Q32,3.9 28.3,3.9 L21.2,3.9 Z" fill="#fff" stroke="#000" stroke-width="1.8"/></g>
<g transform="translate(1327.1,938.3) rotate(135)"><line x1="0" y1="0" x2="19.5" y2="0" stroke="#000" stroke-width="3.5"/><rect x="18" y="-4.8" width="3.8" height="9.6" fill="#000"/><path d="M21.2,-3.9 L28.3,-3.9 Q32,-3.9 32,-0.6 L32,0.6 Q32,3.9 28.3,3.9 L21.2,3.9 Z" fill="#fff" stroke="#000" stroke-width="1.8"/></g>
<g transform="translate(1327.1,979.7) rotate(45)"><line x1="0" y1="0" x2="19.5" y2="0" stroke="#000" stroke-width="3.5"/><rect x="18" y="-4.8" width="3.8" height="9.6" fill="#000"/><path d="M21.2,-3.9 L28.3,-3.9 Q32,-3.9 32,-0.6 L32,0.6 Q32,3.9 28.3,3.9 L21.2,3.9 Z" fill="#fff" stroke="#000" stroke-width="1.8"/></g>
<g transform="translate(1327.1,1026.3) rotate(135)"><line x1="0" y1="0" x2="19.5" y2="0" stroke="#000" stroke-width="3.5"/><rect x="18" y="-4.8" width="3.8" height="9.6" fill="#000"/><path d="M21.2,-3.9 L28.3,-3.9 Q32,-3.9 32,-0.6 L32,0.6 Q32,3.9 28.3,3.9 L21.2,3.9 Z" fill="#fff" stroke="#000" stroke-width="1.8"/></g>
<line x1="1376.3" y1="642" x2="1376.3" y2="754.1" stroke="#000" stroke-width="2.8"/>
<g transform="translate(1376.3,666.6) rotate(135)"><line x1="0" y1="0" x2="19.5" y2="0" stroke="#000" stroke-width="3.5"/><rect x="18" y="-4.8" width="3.8" height="9.6" fill="#000"/><path d="M21.2,-3.9 L28.3,-3.9 Q32,-3.9 32,-0.6 L32,0.6 Q32,3.9 28.3,3.9 L21.2,3.9 Z" fill="#fff" stroke="#000" stroke-width="1.8"/></g>
<g transform="translate(1376.3,709.3) rotate(45)"><line x1="0" y1="0" x2="19.5" y2="0" stroke="#000" stroke-width="3.5"/><rect x="18" y="-4.8" width="3.8" height="9.6" fill="#000"/><path d="M21.2,-3.9 L28.3,-3.9 Q32,-3.9 32,-0.6 L32,0.6 Q32,3.9 28.3,3.9 L21.2,3.9 Z" fill="#fff" stroke="#000" stroke-width="1.8"/></g>
<g transform="translate(1376.3,754.1) rotate(135)"><line x1="0" y1="0" x2="19.5" y2="0" stroke="#000" stroke-width="3.5"/><rect x="18" y="-4.8" width="3.8" height="9.6" fill="#000"/><path d="M21.2,-3.9 L28.3,-3.9 Q32,-3.9 32,-0.6 L32,0.6 Q32,3.9 28.3,3.9 L21.2,3.9 Z" fill="#fff" stroke="#000" stroke-width="1.8"/></g>
<line x1="1425.6" y1="642" x2="1425.6" y2="843.6" stroke="#000" stroke-width="2.8"/>
<g transform="translate(1425.6,712.2) rotate(45)"><line x1="0" y1="0" x2="19.5" y2="0" stroke="#000" stroke-width="3.5"/><rect x="18" y="-4.8" width="3.8" height="9.6" fill="#000"/><path d="M21.2,-3.9 L28.3,-3.9 Q32,-3.9 32,-0.6 L32,0.6 Q32,3.9 28.3,3.9 L21.2,3.9 Z" fill="#fff" stroke="#000" stroke-width="1.8"/></g>
<g transform="translate(1425.6,755.1) rotate(135)"><line x1="0" y1="0" x2="19.5" y2="0" stroke="#000" stroke-width="3.5"/><rect x="18" y="-4.8" width="3.8" height="9.6" fill="#000"/><path d="M21.2,-3.9 L28.3,-3.9 Q32,-3.9 32,-0.6 L32,0.6 Q32,3.9 28.3,3.9 L21.2,3.9 Z" fill="#fff" stroke="#000" stroke-width="1.8"/></g>
<g transform="translate(1425.6,800.6) rotate(45)"><line x1="0" y1="0" x2="19.5" y2="0" stroke="#000" stroke-width="3.5"/><rect x="18" y="-4.8" width="3.8" height="9.6" fill="#000"/><path d="M21.2,-3.9 L28.3,-3.9 Q32,-3.9 32,-0.6 L32,0.6 Q32,3.9 28.3,3.9 L21.2,3.9 Z" fill="#fff" stroke="#000" stroke-width="1.8"/></g>
<g transform="translate(1425.6,843.6) rotate(135)"><line x1="0" y1="0" x2="19.5" y2="0" stroke="#000" stroke-width="3.5"/><rect x="18" y="-4.8" width="3.8" height="9.6" fill="#000"/><path d="M21.2,-3.9 L28.3,-3.9 Q32,-3.9 32,-0.6 L32,0.6 Q32,3.9 28.3,3.9 L21.2,3.9 Z" fill="#fff" stroke="#000" stroke-width="1.8"/></g>
<line x1="1474.9" y1="642" x2="1474.9" y2="1026.3" stroke="#000" stroke-width="2.8"/>
<g transform="translate(1474.9,666.9) rotate(135)"><line x1="0" y1="0" x2="19.5" y2="0" stroke="#000" stroke-width="3.5"/><rect x="18" y="-4.8" width="3.8" height="9.6" fill="#000"/><path d="M21.2,-3.9 L28.3,-3.9 Q32,-3.9 32,-0.6 L32,0.6 Q32,3.9 28.3,3.9 L21.2,3.9 Z" fill="#fff" stroke="#000" stroke-width="1.8"/></g>
<g transform="translate(1474.9,708.9) rotate(45)"><line x1="0" y1="0" x2="19.5" y2="0" stroke="#000" stroke-width="3.5"/><rect x="18" y="-4.8" width="3.8" height="9.6" fill="#000"/><path d="M21.2,-3.9 L28.3,-3.9 Q32,-3.9 32,-0.6 L32,0.6 Q32,3.9 28.3,3.9 L21.2,3.9 Z" fill="#fff" stroke="#000" stroke-width="1.8"/></g>
<g transform="translate(1474.9,754.4) rotate(135)"><line x1="0" y1="0" x2="19.5" y2="0" stroke="#000" stroke-width="3.5"/><rect x="18" y="-4.8" width="3.8" height="9.6" fill="#000"/><path d="M21.2,-3.9 L28.3,-3.9 Q32,-3.9 32,-0.6 L32,0.6 Q32,3.9 28.3,3.9 L21.2,3.9 Z" fill="#fff" stroke="#000" stroke-width="1.8"/></g>
<g transform="translate(1474.9,845.2) rotate(135)"><line x1="0" y1="0" x2="19.5" y2="0" stroke="#000" stroke-width="3.5"/><rect x="18" y="-4.8" width="3.8" height="9.6" fill="#000"/><path d="M21.2,-3.9 L28.3,-3.9 Q32,-3.9 32,-0.6 L32,0.6 Q32,3.9 28.3,3.9 L21.2,3.9 Z" fill="#fff" stroke="#000" stroke-width="1.8"/></g>
<g transform="translate(1474.9,890.6) rotate(45)"><line x1="0" y1="0" x2="19.5" y2="0" stroke="#000" stroke-width="3.5"/><rect x="18" y="-4.8" width="3.8" height="9.6" fill="#000"/><path d="M21.2,-3.9 L28.3,-3.9 Q32,-3.9 32,-0.6 L32,0.6 Q32,3.9 28.3,3.9 L21.2,3.9 Z" fill="#fff" stroke="#000" stroke-width="1.8"/></g>
<g transform="translate(1474.9,938.3) rotate(135)"><line x1="0" y1="0" x2="19.5" y2="0" stroke="#000" stroke-width="3.5"/><rect x="18" y="-4.8" width="3.8" height="9.6" fill="#000"/><path d="M21.2,-3.9 L28.3,-3.9 Q32,-3.9 32,-0.6 L32,0.6 Q32,3.9 28.3,3.9 L21.2,3.9 Z" fill="#fff" stroke="#000" stroke-width="1.8"/></g>
<g transform="translate(1474.9,979.7) rotate(45)"><line x1="0" y1="0" x2="19.5" y2="0" stroke="#000" stroke-width="3.5"/><rect x="18" y="-4.8" width="3.8" height="9.6" fill="#000"/><path d="M21.2,-3.9 L28.3,-3.9 Q32,-3.9 32,-0.6 L32,0.6 Q32,3.9 28.3,3.9 L21.2,3.9 Z" fill="#fff" stroke="#000" stroke-width="1.8"/></g>
<g transform="translate(1474.9,1026.3) rotate(135)"><line x1="0" y1="0" x2="19.5" y2="0" stroke="#000" stroke-width="3.5"/><rect x="18" y="-4.8" width="3.8" height="9.6" fill="#000"/><path d="M21.2,-3.9 L28.3,-3.9 Q32,-3.9 32,-0.6 L32,0.6 Q32,3.9 28.3,3.9 L21.2,3.9 Z" fill="#fff" stroke="#000" stroke-width="1.8"/></g>
<line x1="188" y1="706" x2="534.2" y2="706" stroke="#000" stroke-width="2.8"/>
<polyline points="534.2,706 534.2,674 213.6,674 213.6,642 530,642" fill="none" stroke="#000" stroke-width="2.8"/>
<line x1="590" y1="642" x2="1532" y2="642" stroke="#000" stroke-width="2.8"/>
<polyline points="560.5,642 560.5,528.3 1541.2,528.3 1541.2,633" fill="none" stroke="#000" stroke-width="2.8"/>
<line x1="560.5" y1="592.7" x2="1541.2" y2="592.7" stroke="#000" stroke-width="2.8"/>
<path d="M528,637.5 L536,635 L585,635 L593,637.5 L593,646 L585,648 L536,648 L528,646 Z" fill="#000"/>
<rect x="552.2" y="630.3" width="16.8" height="22.5" fill="#000"/>
<g fill="#fff" stroke="#000" stroke-width="2.3" stroke-linejoin="round">
<path d="M1570.4,628 L1558,628 L1550.5,633.5 L1550.5,652 L1558,657 L1570.4,657 Z"/>
<path d="M1578,622.2 L1603.5,622.2 Q1606.5,622.2 1606.5,625.2 L1606.5,659.5 Q1606.5,662.5 1603.5,662.5 L1578,662.5 Q1570.4,662.5 1570.4,655 L1570.4,629.7 Q1570.4,622.2 1578,622.2 Z"/>
<rect x="1532" y="633.2" width="18.3" height="19.6"/>
<line x1="1538.1" y1="633.2" x2="1538.1" y2="652.8"/><line x1="1544.3" y1="633.2" x2="1544.3" y2="652.8"/>
</g>
<line x1="116" y1="659" x2="116" y2="673" stroke="#000" stroke-width="2.6"/>
<g fill="#fff" stroke="#000" stroke-width="1.9">
<rect x="104" y="672.5" width="24" height="10"/>
<rect x="104" y="687" width="24" height="4.5"/>
<rect x="101" y="682.6" width="30.2" height="4.5"/>
<rect x="93.8" y="691.4" width="44.6" height="27.2"/>
<rect x="138.4" y="694.5" width="8.4" height="20.8"/>
<rect x="146.8" y="698.9" width="8.1" height="12.9"/>
<path d="M155,693.6 L164.5,693.6 L164.5,697.8 L179.7,697.8 L188,700.6 L188,709.3 L179.7,711.6 L164.5,711.6 L164.5,716.8 L155,716.8 Z"/>
</g>
<path d="M213.4,736.4 L221.0,729.6 L221.0,734.8 L525.0,734.8 L525.0,729.6 L532.6,736.4 L525.0,743.1999999999999 L525.0,738.0 L221.0,738.0 L221.0,743.1999999999999 Z" fill="#000" stroke="#000" stroke-width="3.2" stroke-linejoin="round"/>
<polyline points="632.1,799 648.7,1111.3 683,1111.3" fill="none" stroke="#000" stroke-width="2"/>
<polyline points="942,1111.3 968.5,1111.3 1435.8,1055" fill="none" stroke="#000" stroke-width="2"/>
<rect x="914.1" y="497.5" width="174.2" height="59" fill="#0e0f11"/>
<rect x="829.7" y="568.6" width="342.1" height="48.1" fill="#0e0f11"/>
<rect x="1650" y="577.1" width="198.2" height="132.7" fill="#0e0f11"/>
<rect x="682.8" y="1081.9" width="259.4" height="58.3" fill="#0e0f11"/>
<text x="740.2" y="473.1" font-size="103.5" fill="#0d0d0d" textLength="515.75" lengthAdjust="spacingAndGlyphs">Dimensiuni</text>
<text x="926.7" y="541.8" font-size="40.6" fill="#fff" textLength="151.19" lengthAdjust="spacingAndGlyphs">40 metri</text>
<text x="834.8" y="602.7" font-size="35.0" fill="#fff" textLength="319.12" lengthAdjust="spacingAndGlyphs">8 secțiuni de 5 metri</text>
<text x="1661.5" y="616.7" font-size="30.8" fill="#fff" textLength="167.88" lengthAdjust="spacingAndGlyphs">Conectează</text>
<text x="1662.9" y="654.3" font-size="30.8" fill="#fff" textLength="135.23" lengthAdjust="spacingAndGlyphs">alte seturi</text>
<text x="1661.9" y="691.6" font-size="30.8" fill="#fff" textLength="174.22" lengthAdjust="spacingAndGlyphs">până la 40m</text>
<text x="326.9" y="798.7" font-size="39.5" fill="#0d0d0d" textLength="59.88" lengthAdjust="spacingAndGlyphs">3m</text>
<text x="694.3" y="1122.6" font-size="30.8" fill="#fff" textLength="240.74" lengthAdjust="spacingAndGlyphs">Nr. LED-uri: 1144</text>
<text x="91.9" y="1114.3" font-size="41.0" fill="#0d0d0d" textLength="335.01" lengthAdjust="spacingAndGlyphs">Mărimea LED-ului</text>
<rect x="374.5" y="1302.3" width="277.6" height="100.4" fill="#0e0f11"/>
<text x="391.8" y="1343.1" font-size="30.7" fill="#fff" textLength="248.99" lengthAdjust="spacingAndGlyphs">LED-uri cu lumină</text>
<text x="392.8" y="1379.6" font-size="30.7" fill="#fff" textLength="128.35" lengthAdjust="spacingAndGlyphs">puternică</text>
<circle cx="256.9" cy="1352.8" r="125.8" fill="#fff" stroke="#000" stroke-width="2.2"/>
<g fill="#fff" stroke="#000" stroke-width="2">
<path d="M240.2,1215.6 L240.2,1200 Q240.2,1183.3 257,1183.3 Q273.8,1183.3 273.8,1200 L273.8,1215.6 Z"/>
<rect x="243" y="1234.2" width="27.4" height="146.6"/>
<rect x="237" y="1215" width="39.6" height="19.2"/>
</g>
<path d="M244.3,1211.4 L244.3,1199 Q244.5,1187.5 256.5,1187.5 Q266,1188 268.7,1196" fill="none" stroke="#000" stroke-width="1.1"/>
<path d="M99.8,1392.6 L122.3,1425.2 C124.4,1424.9 130.4,1423.3 135.0,1423.2 C139.6,1423.1 145.0,1423.8 150.0,1424.5 C155.0,1425.2 159.2,1427.0 165.0,1427.5 C170.8,1428.0 176.7,1428.3 185.0,1427.5 C193.3,1426.7 204.2,1424.2 215.0,1422.5 C225.8,1420.8 240.8,1418.3 250.0,1417.0 C259.2,1415.7 262.9,1415.1 270.0,1414.5 C277.1,1413.9 283.6,1413.3 292.8,1413.5 C302.0,1413.7 315.1,1415.0 325.0,1415.5 C334.9,1416.0 344.2,1415.6 352.0,1416.5 C359.8,1417.4 364.1,1419.7 372.0,1421.0 C379.9,1422.3 394.8,1423.8 399.3,1424.3  L418.7,1398.8 C414.9,1397.5 402.6,1392.8 395.8,1391.3 C389.0,1389.8 384.8,1390.4 378.0,1389.8 C371.2,1389.2 363.0,1388.1 355.0,1387.5 C347.0,1386.9 338.3,1386.1 330.0,1386.0 C321.7,1385.9 311.2,1386.6 305.0,1386.8 C298.8,1387.0 297.0,1387.6 292.8,1387.3 C288.6,1387.0 284.6,1385.6 280.0,1385.0 C275.4,1384.4 270.8,1383.6 265.0,1383.8 C259.2,1384.0 251.2,1384.7 245.0,1386.4 C238.8,1388.1 232.5,1392.5 228.0,1394.0 C223.5,1395.5 225.5,1395.4 218.0,1395.7 C210.5,1396.0 198.9,1395.3 183.0,1396.1 C167.1,1396.9 132.4,1399.8 122.3,1400.5  L99.8,1392.6 Z" fill="#fff" stroke="#000" stroke-width="1.9" stroke-linejoin="round"/>
<path d="M122.3,1400.5 C126.0,1401.8 137.1,1406.1 144.3,1408.4 C151.5,1410.8 157.5,1413.0 165.4,1414.6 C173.3,1416.2 183.0,1417.1 191.8,1418.1 C200.6,1419.0 208.7,1420.6 218.2,1420.3 C227.7,1420.0 243.9,1417.1 249.0,1416.4 " fill="none" stroke="#000" stroke-width="1.8"/>
<path d="M106.4,1404.0 C111.8,1404.5 124.8,1406.4 139.0,1406.7 C153.2,1407.0 178.6,1405.5 191.8,1405.8 C205.0,1406.1 206.0,1406.6 218.2,1408.4 C230.4,1410.2 257.2,1415.1 265.0,1416.4 " fill="none" stroke="#000" stroke-width="1.8"/>
<path d="M110.8,1407.6 C114.0,1408.8 121.8,1411.5 130.2,1414.6 C138.6,1417.7 152.2,1424.0 161.0,1426.0 C169.8,1428.0 172.0,1427.8 183.0,1426.9 C194.0,1426.0 216.0,1422.5 227.0,1420.8 C238.0,1419.0 245.3,1417.1 249.0,1416.4 " fill="none" stroke="#000" stroke-width="1.8"/>
<path d="M220.0,1396.0 C222.6,1395.6 230.2,1393.5 235.8,1393.5 C241.4,1393.5 248.5,1394.9 253.4,1396.1 C258.3,1397.3 263.1,1399.8 265.0,1400.5 " fill="none" stroke="#000" stroke-width="1.8"/>
<path d="M227.0,1396.0 C229.9,1396.9 238.3,1399.9 244.6,1401.4 C250.9,1402.9 261.6,1404.3 265.0,1404.9 " fill="none" stroke="#000" stroke-width="1.8"/>
<path d="M255.0,1386.4 C257.9,1386.6 266.3,1385.5 272.6,1387.3 C278.9,1389.1 285.5,1394.1 292.8,1397.0 C300.1,1399.9 308.2,1402.1 316.6,1404.9 C325.0,1407.7 335.7,1411.7 343.0,1413.7 C350.3,1415.8 351.2,1415.4 360.6,1417.2 C370.0,1419.0 392.9,1423.1 399.3,1424.3 " fill="none" stroke="#000" stroke-width="1.8"/>
<path d="M262.0,1382.9 C265.2,1384.5 273.8,1389.5 281.4,1392.6 C289.0,1395.7 297.5,1398.2 307.8,1401.4 C318.1,1404.6 332.7,1409.5 343.0,1412.0 C353.3,1414.5 359.1,1415.7 369.4,1416.4 C379.7,1417.1 398.7,1416.4 404.6,1416.4 " fill="none" stroke="#000" stroke-width="1.8"/>
<path d="M255.0,1396.1 C258.7,1397.4 270.7,1401.5 277.0,1404.0 C283.3,1406.5 287.7,1409.5 292.8,1411.1 C297.9,1412.7 299.4,1412.8 307.8,1413.7 C316.2,1414.6 337.1,1416.0 343.0,1416.4 " fill="none" stroke="#000" stroke-width="1.8"/>
<path d="M292.8,1387.3 C295.3,1387.8 300.9,1388.4 307.8,1390.0 C314.7,1391.6 323.9,1393.9 334.2,1397.0 C344.5,1400.1 359.1,1405.9 369.4,1408.4 C379.7,1410.9 391.4,1411.4 395.8,1412.0 " fill="none" stroke="#000" stroke-width="1.8"/>
<path d="M328.0,1387.3 C332.0,1388.2 343.4,1390.2 351.8,1392.6 C360.2,1394.9 370.1,1398.2 378.2,1401.4 C386.3,1404.6 396.5,1410.2 400.2,1412.0 " fill="none" stroke="#000" stroke-width="1.8"/>
<path d="M369.4,1390.0 C373.1,1390.7 384.1,1392.1 391.4,1394.4 C398.7,1396.7 409.7,1402.4 413.4,1404.0 " fill="none" stroke="#000" stroke-width="1.8"/>
<path d="M255.0,1405.8 C257.9,1405.7 266.8,1404.2 272.6,1404.9 C278.4,1405.6 287.8,1408.5 290.0,1410.0 C292.2,1411.5 291.6,1412.5 285.8,1413.7 C280.0,1414.9 260.1,1416.6 255.0,1417.2 " fill="none" stroke="#000" stroke-width="1.8"/>
<path d="M240.4,1169.9 L247.8,1163.7 L247.8,1169.35 L267.1,1169.35 L267.1,1163.7 L274.5,1169.9 L267.1,1176.1000000000001 L267.1,1170.4500000000003 L247.8,1170.4500000000003 L247.8,1176.1000000000001 Z" fill="#000" stroke="#000" stroke-width="3.2" stroke-linejoin="round"/>
<path d="M289.2,1182.3 L295.59999999999997,1189.2 L289.74999999999994,1189.2 L289.74999999999994,1207.5 L295.59999999999997,1207.5 L289.2,1214.4 L282.8,1207.5 L288.65000000000003,1207.5 L288.65000000000003,1189.2 L282.8,1189.2 Z" fill="#000" stroke="#000" stroke-width="3.2" stroke-linejoin="round"/>
<path d="M213.8,1216.3999999999999 L220.70000000000002,1224.4999999999998 L215.05,1224.4999999999998 L215.05,1371.3000000000002 L220.70000000000002,1371.3000000000002 L213.8,1379.4 L206.9,1371.3000000000002 L212.55,1371.3000000000002 L212.55,1224.4999999999998 L206.9,1224.4999999999998 Z" fill="#000" stroke="#000" stroke-width="3.2" stroke-linejoin="round"/>
<text x="236.4" y="1154.5" font-size="18.5" fill="#0d0d0d" textLength="46.83" lengthAdjust="spacingAndGlyphs">5mm</text>
<text x="300.7" y="1203.4" font-size="18.5" fill="#0d0d0d" textLength="47.12" lengthAdjust="spacingAndGlyphs">5mm</text>
<text x="149.0" y="1309.9" font-size="18.5" fill="#0d0d0d" textLength="58.21" lengthAdjust="spacingAndGlyphs">25mm</text>
<text x="1559.1" y="1042.5" font-size="41.5" fill="#0d0d0d" textLength="155.08" lengthAdjust="spacingAndGlyphs">Spațiere</text>
<line x1="1410" y1="1100" x2="1825.2" y2="1100" stroke="#000" stroke-width="2.8"/>
<line x1="1446.1" y1="1100" x2="1446.1" y2="1210.0" stroke="#000" stroke-width="2.8"/>
<g transform="translate(1446.1,1122.5) rotate(135)"><line x1="0" y1="0" x2="19.5" y2="0" stroke="#000" stroke-width="3.5"/><rect x="18" y="-4.8" width="3.8" height="9.6" fill="#000"/><path d="M21.2,-3.9 L28.3,-3.9 Q32,-3.9 32,-0.6 L32,0.6 Q32,3.9 28.3,3.9 L21.2,3.9 Z" fill="#fff" stroke="#000" stroke-width="1.8"/></g>
<g transform="translate(1446.1,1164.0) rotate(45)"><line x1="0" y1="0" x2="19.5" y2="0" stroke="#000" stroke-width="3.5"/><rect x="18" y="-4.8" width="3.8" height="9.6" fill="#000"/><path d="M21.2,-3.9 L28.3,-3.9 Q32,-3.9 32,-0.6 L32,0.6 Q32,3.9 28.3,3.9 L21.2,3.9 Z" fill="#fff" stroke="#000" stroke-width="1.8"/></g>
<g transform="translate(1446.1,1210.0) rotate(135)"><line x1="0" y1="0" x2="19.5" y2="0" stroke="#000" stroke-width="3.5"/><rect x="18" y="-4.8" width="3.8" height="9.6" fill="#000"/><path d="M21.2,-3.9 L28.3,-3.9 Q32,-3.9 32,-0.6 L32,0.6 Q32,3.9 28.3,3.9 L21.2,3.9 Z" fill="#fff" stroke="#000" stroke-width="1.8"/></g>
<line x1="1512.2" y1="1100" x2="1512.2" y2="1301.5" stroke="#000" stroke-width="2.8"/>
<g transform="translate(1512.2,1170.0) rotate(45)"><line x1="0" y1="0" x2="19.5" y2="0" stroke="#000" stroke-width="3.5"/><rect x="18" y="-4.8" width="3.8" height="9.6" fill="#000"/><path d="M21.2,-3.9 L28.3,-3.9 Q32,-3.9 32,-0.6 L32,0.6 Q32,3.9 28.3,3.9 L21.2,3.9 Z" fill="#fff" stroke="#000" stroke-width="1.8"/></g>
<g transform="translate(1512.2,1211.0) rotate(135)"><line x1="0" y1="0" x2="19.5" y2="0" stroke="#000" stroke-width="3.5"/><rect x="18" y="-4.8" width="3.8" height="9.6" fill="#000"/><path d="M21.2,-3.9 L28.3,-3.9 Q32,-3.9 32,-0.6 L32,0.6 Q32,3.9 28.3,3.9 L21.2,3.9 Z" fill="#fff" stroke="#000" stroke-width="1.8"/></g>
<g transform="translate(1512.2,1257.5) rotate(45)"><line x1="0" y1="0" x2="19.5" y2="0" stroke="#000" stroke-width="3.5"/><rect x="18" y="-4.8" width="3.8" height="9.6" fill="#000"/><path d="M21.2,-3.9 L28.3,-3.9 Q32,-3.9 32,-0.6 L32,0.6 Q32,3.9 28.3,3.9 L21.2,3.9 Z" fill="#fff" stroke="#000" stroke-width="1.8"/></g>
<g transform="translate(1512.2,1301.5) rotate(135)"><line x1="0" y1="0" x2="19.5" y2="0" stroke="#000" stroke-width="3.5"/><rect x="18" y="-4.8" width="3.8" height="9.6" fill="#000"/><path d="M21.2,-3.9 L28.3,-3.9 Q32,-3.9 32,-0.6 L32,0.6 Q32,3.9 28.3,3.9 L21.2,3.9 Z" fill="#fff" stroke="#000" stroke-width="1.8"/></g>
<line x1="1584.5" y1="1100" x2="1584.5" y2="1482.4" stroke="#000" stroke-width="2.8"/>
<g transform="translate(1584.5,1123.0) rotate(135)"><line x1="0" y1="0" x2="19.5" y2="0" stroke="#000" stroke-width="3.5"/><rect x="18" y="-4.8" width="3.8" height="9.6" fill="#000"/><path d="M21.2,-3.9 L28.3,-3.9 Q32,-3.9 32,-0.6 L32,0.6 Q32,3.9 28.3,3.9 L21.2,3.9 Z" fill="#fff" stroke="#000" stroke-width="1.8"/></g>
<g transform="translate(1584.5,1164.5) rotate(45)"><line x1="0" y1="0" x2="19.5" y2="0" stroke="#000" stroke-width="3.5"/><rect x="18" y="-4.8" width="3.8" height="9.6" fill="#000"/><path d="M21.2,-3.9 L28.3,-3.9 Q32,-3.9 32,-0.6 L32,0.6 Q32,3.9 28.3,3.9 L21.2,3.9 Z" fill="#fff" stroke="#000" stroke-width="1.8"/></g>
<g transform="translate(1584.5,1211.0) rotate(135)"><line x1="0" y1="0" x2="19.5" y2="0" stroke="#000" stroke-width="3.5"/><rect x="18" y="-4.8" width="3.8" height="9.6" fill="#000"/><path d="M21.2,-3.9 L28.3,-3.9 Q32,-3.9 32,-0.6 L32,0.6 Q32,3.9 28.3,3.9 L21.2,3.9 Z" fill="#fff" stroke="#000" stroke-width="1.8"/></g>
<g transform="translate(1584.5,1258.0) rotate(45)"><line x1="0" y1="0" x2="19.5" y2="0" stroke="#000" stroke-width="3.5"/><rect x="18" y="-4.8" width="3.8" height="9.6" fill="#000"/><path d="M21.2,-3.9 L28.3,-3.9 Q32,-3.9 32,-0.6 L32,0.6 Q32,3.9 28.3,3.9 L21.2,3.9 Z" fill="#fff" stroke="#000" stroke-width="1.8"/></g>
<g transform="translate(1584.5,1301.0) rotate(135)"><line x1="0" y1="0" x2="19.5" y2="0" stroke="#000" stroke-width="3.5"/><rect x="18" y="-4.8" width="3.8" height="9.6" fill="#000"/><path d="M21.2,-3.9 L28.3,-3.9 Q32,-3.9 32,-0.6 L32,0.6 Q32,3.9 28.3,3.9 L21.2,3.9 Z" fill="#fff" stroke="#000" stroke-width="1.8"/></g>
<g transform="translate(1584.5,1348.5) rotate(45)"><line x1="0" y1="0" x2="19.5" y2="0" stroke="#000" stroke-width="3.5"/><rect x="18" y="-4.8" width="3.8" height="9.6" fill="#000"/><path d="M21.2,-3.9 L28.3,-3.9 Q32,-3.9 32,-0.6 L32,0.6 Q32,3.9 28.3,3.9 L21.2,3.9 Z" fill="#fff" stroke="#000" stroke-width="1.8"/></g>
<g transform="translate(1584.5,1393.2) rotate(135)"><line x1="0" y1="0" x2="19.5" y2="0" stroke="#000" stroke-width="3.5"/><rect x="18" y="-4.8" width="3.8" height="9.6" fill="#000"/><path d="M21.2,-3.9 L28.3,-3.9 Q32,-3.9 32,-0.6 L32,0.6 Q32,3.9 28.3,3.9 L21.2,3.9 Z" fill="#fff" stroke="#000" stroke-width="1.8"/></g>
<g transform="translate(1584.5,1437.8) rotate(45)"><line x1="0" y1="0" x2="19.5" y2="0" stroke="#000" stroke-width="3.5"/><rect x="18" y="-4.8" width="3.8" height="9.6" fill="#000"/><path d="M21.2,-3.9 L28.3,-3.9 Q32,-3.9 32,-0.6 L32,0.6 Q32,3.9 28.3,3.9 L21.2,3.9 Z" fill="#fff" stroke="#000" stroke-width="1.8"/></g>
<g transform="translate(1584.5,1482.4) rotate(135)"><line x1="0" y1="0" x2="19.5" y2="0" stroke="#000" stroke-width="3.5"/><rect x="18" y="-4.8" width="3.8" height="9.6" fill="#000"/><path d="M21.2,-3.9 L28.3,-3.9 Q32,-3.9 32,-0.6 L32,0.6 Q32,3.9 28.3,3.9 L21.2,3.9 Z" fill="#fff" stroke="#000" stroke-width="1.8"/></g>
<line x1="1650.5" y1="1100" x2="1650.5" y2="1210.0" stroke="#000" stroke-width="2.8"/>
<g transform="translate(1650.5,1122.5) rotate(135)"><line x1="0" y1="0" x2="19.5" y2="0" stroke="#000" stroke-width="3.5"/><rect x="18" y="-4.8" width="3.8" height="9.6" fill="#000"/><path d="M21.2,-3.9 L28.3,-3.9 Q32,-3.9 32,-0.6 L32,0.6 Q32,3.9 28.3,3.9 L21.2,3.9 Z" fill="#fff" stroke="#000" stroke-width="1.8"/></g>
<g transform="translate(1650.5,1164.0) rotate(45)"><line x1="0" y1="0" x2="19.5" y2="0" stroke="#000" stroke-width="3.5"/><rect x="18" y="-4.8" width="3.8" height="9.6" fill="#000"/><path d="M21.2,-3.9 L28.3,-3.9 Q32,-3.9 32,-0.6 L32,0.6 Q32,3.9 28.3,3.9 L21.2,3.9 Z" fill="#fff" stroke="#000" stroke-width="1.8"/></g>
<g transform="translate(1650.5,1210.0) rotate(135)"><line x1="0" y1="0" x2="19.5" y2="0" stroke="#000" stroke-width="3.5"/><rect x="18" y="-4.8" width="3.8" height="9.6" fill="#000"/><path d="M21.2,-3.9 L28.3,-3.9 Q32,-3.9 32,-0.6 L32,0.6 Q32,3.9 28.3,3.9 L21.2,3.9 Z" fill="#fff" stroke="#000" stroke-width="1.8"/></g>
<line x1="1716.8" y1="1100" x2="1716.8" y2="1301.5" stroke="#000" stroke-width="2.8"/>
<g transform="translate(1716.8,1170.0) rotate(45)"><line x1="0" y1="0" x2="19.5" y2="0" stroke="#000" stroke-width="3.5"/><rect x="18" y="-4.8" width="3.8" height="9.6" fill="#000"/><path d="M21.2,-3.9 L28.3,-3.9 Q32,-3.9 32,-0.6 L32,0.6 Q32,3.9 28.3,3.9 L21.2,3.9 Z" fill="#fff" stroke="#000" stroke-width="1.8"/></g>
<g transform="translate(1716.8,1211.0) rotate(135)"><line x1="0" y1="0" x2="19.5" y2="0" stroke="#000" stroke-width="3.5"/><rect x="18" y="-4.8" width="3.8" height="9.6" fill="#000"/><path d="M21.2,-3.9 L28.3,-3.9 Q32,-3.9 32,-0.6 L32,0.6 Q32,3.9 28.3,3.9 L21.2,3.9 Z" fill="#fff" stroke="#000" stroke-width="1.8"/></g>
<g transform="translate(1716.8,1257.5) rotate(45)"><line x1="0" y1="0" x2="19.5" y2="0" stroke="#000" stroke-width="3.5"/><rect x="18" y="-4.8" width="3.8" height="9.6" fill="#000"/><path d="M21.2,-3.9 L28.3,-3.9 Q32,-3.9 32,-0.6 L32,0.6 Q32,3.9 28.3,3.9 L21.2,3.9 Z" fill="#fff" stroke="#000" stroke-width="1.8"/></g>
<g transform="translate(1716.8,1301.5) rotate(135)"><line x1="0" y1="0" x2="19.5" y2="0" stroke="#000" stroke-width="3.5"/><rect x="18" y="-4.8" width="3.8" height="9.6" fill="#000"/><path d="M21.2,-3.9 L28.3,-3.9 Q32,-3.9 32,-0.6 L32,0.6 Q32,3.9 28.3,3.9 L21.2,3.9 Z" fill="#fff" stroke="#000" stroke-width="1.8"/></g>
<line x1="1789.4" y1="1100" x2="1789.4" y2="1482.4" stroke="#000" stroke-width="2.8"/>
<g transform="translate(1789.4,1123.0) rotate(135)"><line x1="0" y1="0" x2="19.5" y2="0" stroke="#000" stroke-width="3.5"/><rect x="18" y="-4.8" width="3.8" height="9.6" fill="#000"/><path d="M21.2,-3.9 L28.3,-3.9 Q32,-3.9 32,-0.6 L32,0.6 Q32,3.9 28.3,3.9 L21.2,3.9 Z" fill="#fff" stroke="#000" stroke-width="1.8"/></g>
<g transform="translate(1789.4,1164.5) rotate(45)"><line x1="0" y1="0" x2="19.5" y2="0" stroke="#000" stroke-width="3.5"/><rect x="18" y="-4.8" width="3.8" height="9.6" fill="#000"/><path d="M21.2,-3.9 L28.3,-3.9 Q32,-3.9 32,-0.6 L32,0.6 Q32,3.9 28.3,3.9 L21.2,3.9 Z" fill="#fff" stroke="#000" stroke-width="1.8"/></g>
<g transform="translate(1789.4,1211.0) rotate(135)"><line x1="0" y1="0" x2="19.5" y2="0" stroke="#000" stroke-width="3.5"/><rect x="18" y="-4.8" width="3.8" height="9.6" fill="#000"/><path d="M21.2,-3.9 L28.3,-3.9 Q32,-3.9 32,-0.6 L32,0.6 Q32,3.9 28.3,3.9 L21.2,3.9 Z" fill="#fff" stroke="#000" stroke-width="1.8"/></g>
<g transform="translate(1789.4,1258.0) rotate(45)"><line x1="0" y1="0" x2="19.5" y2="0" stroke="#000" stroke-width="3.5"/><rect x="18" y="-4.8" width="3.8" height="9.6" fill="#000"/><path d="M21.2,-3.9 L28.3,-3.9 Q32,-3.9 32,-0.6 L32,0.6 Q32,3.9 28.3,3.9 L21.2,3.9 Z" fill="#fff" stroke="#000" stroke-width="1.8"/></g>
<g transform="translate(1789.4,1301.0) rotate(135)"><line x1="0" y1="0" x2="19.5" y2="0" stroke="#000" stroke-width="3.5"/><rect x="18" y="-4.8" width="3.8" height="9.6" fill="#000"/><path d="M21.2,-3.9 L28.3,-3.9 Q32,-3.9 32,-0.6 L32,0.6 Q32,3.9 28.3,3.9 L21.2,3.9 Z" fill="#fff" stroke="#000" stroke-width="1.8"/></g>
<g transform="translate(1789.4,1348.5) rotate(45)"><line x1="0" y1="0" x2="19.5" y2="0" stroke="#000" stroke-width="3.5"/><rect x="18" y="-4.8" width="3.8" height="9.6" fill="#000"/><path d="M21.2,-3.9 L28.3,-3.9 Q32,-3.9 32,-0.6 L32,0.6 Q32,3.9 28.3,3.9 L21.2,3.9 Z" fill="#fff" stroke="#000" stroke-width="1.8"/></g>
<g transform="translate(1789.4,1393.2) rotate(135)"><line x1="0" y1="0" x2="19.5" y2="0" stroke="#000" stroke-width="3.5"/><rect x="18" y="-4.8" width="3.8" height="9.6" fill="#000"/><path d="M21.2,-3.9 L28.3,-3.9 Q32,-3.9 32,-0.6 L32,0.6 Q32,3.9 28.3,3.9 L21.2,3.9 Z" fill="#fff" stroke="#000" stroke-width="1.8"/></g>
<g transform="translate(1789.4,1437.8) rotate(45)"><line x1="0" y1="0" x2="19.5" y2="0" stroke="#000" stroke-width="3.5"/><rect x="18" y="-4.8" width="3.8" height="9.6" fill="#000"/><path d="M21.2,-3.9 L28.3,-3.9 Q32,-3.9 32,-0.6 L32,0.6 Q32,3.9 28.3,3.9 L21.2,3.9 Z" fill="#fff" stroke="#000" stroke-width="1.8"/></g>
<g transform="translate(1789.4,1482.4) rotate(135)"><line x1="0" y1="0" x2="19.5" y2="0" stroke="#000" stroke-width="3.5"/><rect x="18" y="-4.8" width="3.8" height="9.6" fill="#000"/><path d="M21.2,-3.9 L28.3,-3.9 Q32,-3.9 32,-0.6 L32,0.6 Q32,3.9 28.3,3.9 L21.2,3.9 Z" fill="#fff" stroke="#000" stroke-width="1.8"/></g>
<polyline points="1443.8,1167.4 1232.5,1197 1443.8,1207.9" fill="none" stroke="#000" stroke-width="1.8"/>
<text x="1165.3" y="1201.9" font-size="25.0" fill="#0d0d0d" textLength="49.03" lengthAdjust="spacingAndGlyphs">9cm</text>
<path d="M1847.9,1110.1999999999998 L1857.7,1118.6 L1850.7000000000003,1118.6 L1850.7000000000003,1491.5 L1857.7,1491.5 L1847.9,1499.9 L1838.1000000000001,1491.5 L1845.1,1491.5 L1845.1,1118.6 L1838.1000000000001,1118.6 Z" fill="#000" stroke="#000" stroke-width="3.2" stroke-linejoin="round"/>
<text x="1876.0" y="1300.5" font-size="25.4" fill="#0d0d0d" textLength="58.35" lengthAdjust="spacingAndGlyphs">0,7m</text>
<path d="M1656.8,1390 L1664.8,1381.95 L1664.8,1388.1499999999999 L1708.7,1388.1499999999999 L1708.7,1381.95 L1716.7,1390 L1708.7,1398.05 L1708.7,1391.8500000000001 L1664.8,1391.8500000000001 L1664.8,1398.05 Z" fill="#000" stroke="#000" stroke-width="3.2" stroke-linejoin="round"/>
<text x="1655.7" y="1430.2" font-size="24.7" fill="#0d0d0d" textLength="63.97" lengthAdjust="spacingAndGlyphs">16cm</text>
<text x="214.0" y="1631.3" font-size="39.4" fill="#0d0d0d" textLength="1573.48" lengthAdjust="spacingAndGlyphs">*Dimensiunile produsului sunt aproximative și variază din cauza îndoiturilor din cablu.</text>
</svg></body></html>
